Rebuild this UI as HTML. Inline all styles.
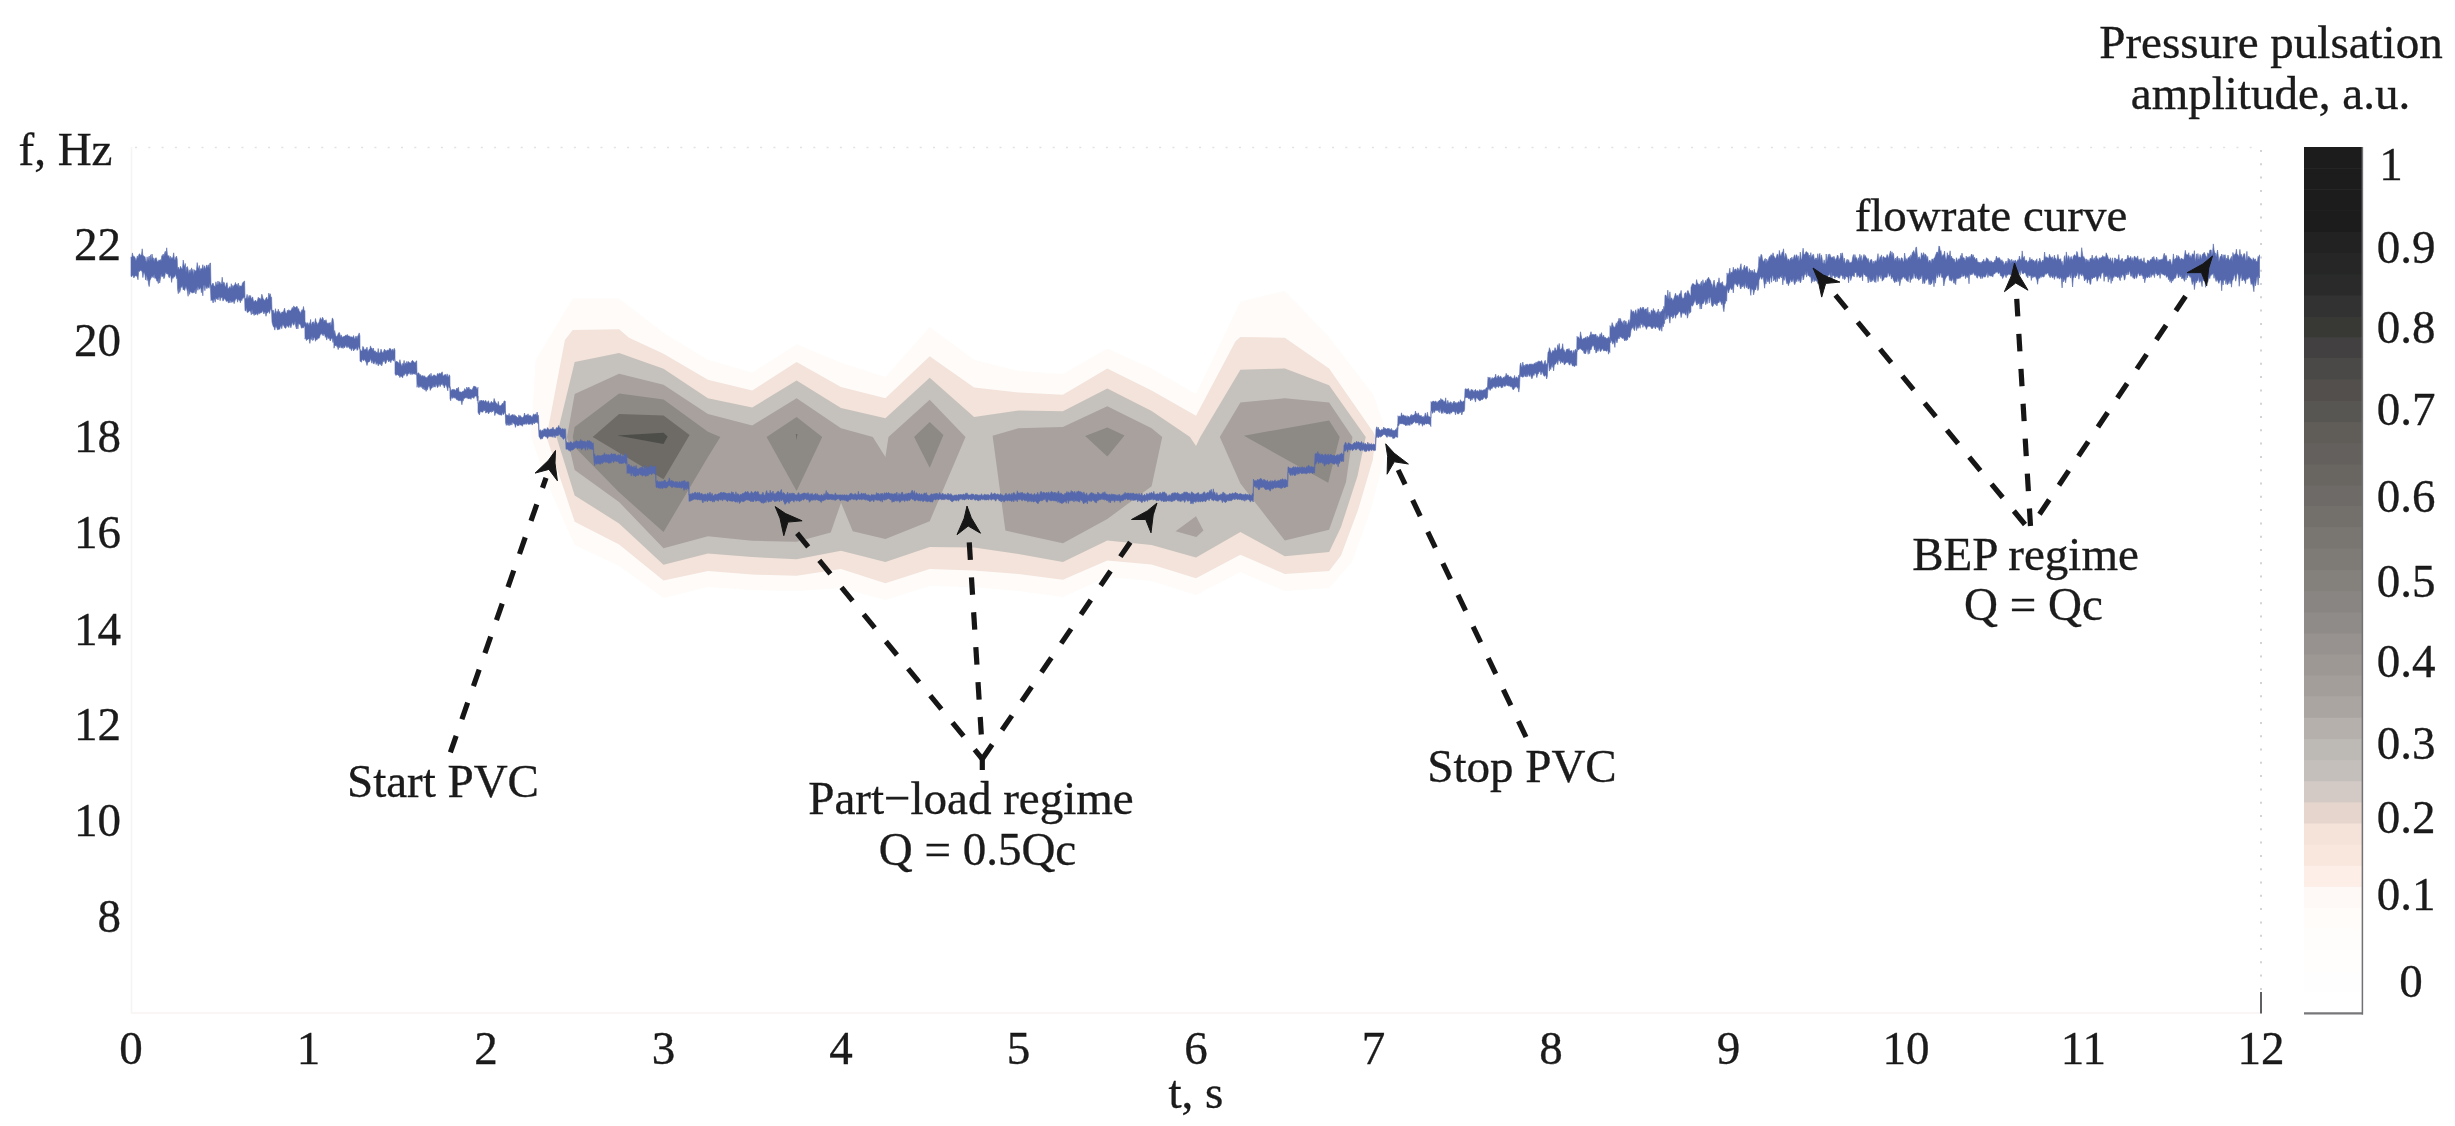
<!DOCTYPE html>
<html><head><meta charset="utf-8"><title>Pressure pulsation amplitude</title>
<style>
html,body{margin:0;padding:0;background:#fff;}
svg{display:block;}
text{font-family:"Liberation Serif","Times New Roman",serif;fill:#1a1a1a;stroke:#1a1a1a;stroke-width:0.35px;}
</style></head>
<body>
<svg width="2455" height="1126" viewBox="0 0 2455 1126">
<defs><filter id="soft" x="0" y="0" width="100%" height="100%" filterUnits="userSpaceOnUse"><feGaussianBlur stdDeviation="0.55"/></filter></defs>
<rect width="2455" height="1126" fill="#ffffff"/>
<g filter="url(#soft)">
<path d="M131.5,147 V1013 H2260" stroke="#f7f4f2" stroke-width="1.5" fill="none"/>
<path d="M135,147.5 H2260" stroke="#e2e2e6" stroke-width="1.6" stroke-dasharray="2 11.3" fill="none"/>
<path d="M2261,150 V990" stroke="#cfcfd3" stroke-width="1.8" stroke-dasharray="2 11.3" fill="none"/>
<path d="M2261,992 V1013.5" stroke="#606064" stroke-width="2" fill="none"/>
<g id="contours">
<polygon fill="#fefbf9" points="531.0,437.0 535.7,360.0 572.7,298.5 619.1,298.5 663.5,332.7 707.9,359.8 752.2,372.7 796.6,344.2 841.0,362.7 885.4,377.0 929.7,327.0 974.1,359.8 1018.5,371.0 1062.9,374.0 1107.3,348.4 1151.6,368.4 1196.0,394.0 1240.4,301.4 1284.8,291.0 1329.1,337.0 1373.5,395.0 1388.0,437.0 1384.0,460.0 1370.0,512.0 1352.0,562.0 1329.1,588.0 1284.8,591.0 1240.4,572.0 1196.0,595.0 1151.6,581.0 1107.3,577.0 1062.9,597.0 1018.5,591.0 974.1,587.0 929.7,586.0 885.4,600.0 841.0,588.0 796.6,591.0 752.2,590.0 707.9,587.0 663.5,598.0 619.1,566.0 574.7,545.0 548.0,485.0"/>
<polygon fill="#f3e3da" points="546.5,437.0 564.9,340.0 572.7,330.0 619.1,329.2 629.0,337.7 663.5,353.7 707.9,379.8 752.2,390.5 796.6,362.0 841.0,386.9 885.4,398.3 929.7,356.3 974.1,387.6 1018.5,392.6 1062.9,394.8 1107.3,368.4 1151.6,390.5 1196.0,415.8 1235.5,341.3 1240.4,337.0 1284.8,337.7 1329.1,368.4 1373.5,432.5 1375.5,437.0 1372.8,460.0 1358.1,509.8 1341.0,555.5 1329.1,571.1 1284.8,574.0 1240.4,554.7 1196.0,578.3 1151.6,564.4 1107.3,560.5 1062.9,579.7 1018.5,574.0 974.1,570.4 929.7,569.0 885.4,583.3 841.0,569.0 796.6,575.7 752.2,574.6 707.9,570.9 663.5,580.4 619.1,544.6 574.7,521.8"/>
<polygon fill="#c5c1bc" points="556.5,437.0 574.7,362.0 619.1,353.0 663.5,368.7 707.9,398.3 752.2,407.6 796.6,380.5 841.0,408.0 885.4,418.3 929.7,377.7 974.1,416.9 1018.5,410.5 1062.9,411.2 1107.3,388.4 1151.6,411.0 1190.0,437.0 1196.0,446.0 1200.3,437.0 1240.4,369.8 1284.8,368.4 1329.1,385.2 1365.7,437.0 1357.5,476.0 1341.0,527.0 1329.1,551.9 1284.8,556.2 1240.4,531.9 1196.0,557.6 1151.6,545.0 1107.3,540.5 1062.9,561.9 1018.5,554.0 974.1,547.6 929.7,546.9 885.4,561.9 841.0,550.8 796.6,559.3 752.2,557.1 707.9,553.4 663.5,564.7 619.1,523.5 574.7,495.5"/>
<polygon fill="#a8a19e" points="567.0,437.0 574.7,394.0 619.1,373.7 663.5,384.8 707.9,414.0 752.2,425.4 796.6,398.3 841.0,428.3 872.8,437.0 885.4,457.0 888.5,437.0 929.7,399.8 965.5,437.0 929.7,521.2 885.4,539.1 852.8,531.2 841.0,502.7 830.7,532.5 796.6,541.8 752.2,540.7 707.9,536.2 663.5,548.3 619.1,502.0 574.7,470.0"/>
<polygon fill="#a8a19e" points="992.6,435.7 1018.5,428.3 1062.9,426.9 1107.3,406.2 1151.6,428.3 1162.2,437.0 1151.6,486.3 1107.3,519.0 1062.9,543.3 1018.5,533.4 1005.4,530.5"/>
<polygon fill="#a8a19e" points="1196.0,516.3 1203.4,530.5 1196.3,536.9 1175.6,531.2"/>
<polygon fill="#a8a19e" points="1219.8,437.0 1240.4,402.6 1284.8,398.3 1329.1,402.5 1352.4,437.0 1346.0,482.0 1329.1,529.8 1284.8,540.5 1240.4,483.5"/>
<polygon fill="#8d8984" points="572.8,437.0 574.7,426.9 619.1,393.6 663.5,399.5 707.9,431.8 720.3,437.0 707.9,457.0 663.5,532.0 619.1,492.3 574.7,447.0"/>
<polygon fill="#8d8984" points="766.6,437.0 796.6,416.9 822.2,437.0 796.6,491.0"/>
<polygon fill="#8d8984" points="914.1,437.0 929.7,421.9 943.4,435.0 929.7,467.8"/>
<polygon fill="#8d8984" points="1085.2,436.0 1107.3,427.6 1124.5,435.5 1107.3,456.4"/>
<polygon fill="#8d8984" points="1244.0,435.7 1329.1,420.4 1339.6,437.0 1328.2,482.8"/>
<polygon fill="#6e6b66" points="592.7,437.0 619.1,414.0 663.5,415.4 689.6,435.0 663.5,479.2"/>
<polygon fill="#6e6b66" points="795.8,434.0 797.4,434.0 796.6,440.0"/>
<polygon fill="#4e4d4a" points="617.3,435.5 663.5,432.8 667.6,436.6 663.5,444.0"/>
</g>
<path id="flow" d="M131.0,256.9 L131.7,258.1 L132.4,252.9 L133.1,256.7 L133.8,256.0 L134.5,256.7 L135.2,258.0 L135.9,260.8 L136.6,259.0 L137.3,255.9 L138.0,258.2 L138.7,255.1 L139.4,253.8 L140.1,254.4 L140.8,255.4 L141.5,254.8 L142.2,248.8 L142.9,255.6 L143.6,255.7 L144.3,256.9 L145.0,256.6 L145.7,260.6 L146.4,262.5 L147.1,256.8 L147.8,261.4 L148.5,258.1 L149.2,256.0 L149.9,261.4 L150.6,254.8 L151.3,260.8 L152.0,254.0 L152.7,258.2 L153.4,257.9 L154.1,261.8 L154.8,258.5 L155.5,258.2 L156.2,257.7 L156.9,260.3 L157.6,262.1 L158.3,261.3 L159.0,259.8 L159.7,260.5 L160.4,259.6 L161.1,261.3 L161.8,255.7 L162.5,255.8 L163.2,254.0 L163.9,256.8 L164.6,253.1 L165.3,251.3 L166.0,254.5 L166.7,247.8 L167.4,254.5 L168.1,256.3 L168.8,255.5 L169.5,259.3 L170.2,256.1 L170.9,259.6 L171.6,257.5 L172.3,258.4 L173.0,256.9 L173.7,252.8 L174.4,259.2 L175.1,259.9 L175.8,257.1 L176.5,256.1 L177.2,259.2 L177.6,269.8 L178.3,267.1 L179.0,268.8 L179.7,269.7 L180.4,266.3 L181.1,267.5 L181.8,269.0 L182.5,268.8 L183.2,260.1 L183.9,264.4 L184.6,267.0 L185.3,263.5 L186.0,272.3 L186.7,267.1 L187.4,266.6 L188.1,269.4 L188.8,274.3 L189.5,270.4 L190.2,269.5 L190.9,273.0 L191.6,267.9 L192.3,272.2 L193.0,269.3 L193.7,275.5 L194.4,269.7 L195.1,270.8 L195.8,271.2 L196.5,269.7 L197.2,262.6 L197.9,267.7 L198.6,268.5 L199.3,265.5 L200.0,271.6 L200.7,268.5 L201.4,268.8 L202.1,268.8 L202.8,264.7 L203.5,270.4 L204.2,265.7 L204.9,267.4 L205.6,269.4 L206.3,265.4 L207.0,265.0 L207.7,268.3 L208.4,264.7 L209.1,268.4 L209.8,263.3 L210.5,263.0 L211.0,285.2 L211.7,285.4 L212.4,283.8 L213.1,283.1 L213.8,285.4 L214.5,286.1 L215.2,286.8 L215.9,281.8 L216.6,284.7 L217.3,285.0 L218.0,281.0 L218.7,285.2 L219.4,281.7 L220.1,282.4 L220.8,284.6 L221.5,283.7 L222.2,277.2 L222.9,284.5 L223.6,282.3 L224.3,282.6 L225.0,286.2 L225.7,286.9 L226.4,283.2 L227.1,282.5 L227.8,288.5 L228.5,288.5 L229.2,287.4 L229.9,286.5 L230.6,289.1 L231.3,283.7 L232.0,288.8 L232.7,285.4 L233.4,286.9 L234.1,285.3 L234.8,284.6 L235.5,282.5 L236.2,286.3 L236.9,284.1 L237.6,286.6 L238.3,283.0 L239.0,287.9 L239.7,285.5 L240.4,286.1 L241.1,286.2 L241.8,286.1 L242.5,282.9 L243.2,282.2 L243.9,281.6 L244.6,281.0 L245.0,298.1 L245.7,298.7 L246.4,297.9 L247.1,294.4 L247.8,298.9 L248.5,297.2 L249.2,295.3 L249.9,298.1 L250.6,295.5 L251.3,299.6 L252.0,297.6 L252.7,297.1 L253.4,300.9 L254.1,301.5 L254.8,301.0 L255.5,300.1 L256.2,301.5 L256.9,302.0 L257.6,299.7 L258.3,297.3 L259.0,298.9 L259.7,297.9 L260.4,299.3 L261.1,299.2 L261.8,294.2 L262.5,296.3 L263.2,299.2 L263.9,299.2 L264.6,300.8 L265.3,300.0 L266.0,298.1 L266.7,297.2 L267.4,300.0 L268.1,298.8 L268.8,293.1 L269.5,296.0 L270.2,293.7 L270.9,297.2 L271.6,297.3 L272.0,311.2 L272.7,310.0 L273.4,310.3 L274.1,314.1 L274.8,312.6 L275.5,308.7 L276.2,314.5 L276.9,311.3 L277.6,312.2 L278.3,309.2 L279.0,312.7 L279.7,311.4 L280.4,313.5 L281.1,313.7 L281.8,312.1 L282.5,312.0 L283.2,312.3 L283.9,310.2 L284.6,308.1 L285.3,312.2 L286.0,312.7 L286.7,313.4 L287.4,310.2 L288.1,311.2 L288.8,309.7 L289.5,310.4 L290.2,310.9 L290.9,310.6 L291.6,309.2 L292.3,307.4 L293.0,309.3 L293.7,306.0 L294.4,306.7 L295.1,307.4 L295.8,307.4 L296.5,306.5 L297.2,306.6 L297.9,309.8 L298.6,308.6 L299.3,311.8 L300.0,311.6 L300.7,313.9 L301.4,310.9 L302.1,309.6 L302.8,310.4 L303.5,306.5 L304.2,311.2 L304.9,310.5 L305.0,321.4 L305.7,322.7 L306.4,324.4 L307.1,322.5 L307.8,323.3 L308.5,325.6 L309.2,322.7 L309.9,325.5 L310.6,319.4 L311.3,325.8 L312.0,323.3 L312.7,322.0 L313.4,321.8 L314.1,324.4 L314.8,322.4 L315.5,318.5 L316.2,322.3 L316.9,322.5 L317.6,325.2 L318.3,322.9 L319.0,322.5 L319.7,319.8 L320.4,317.7 L321.1,319.7 L321.8,319.5 L322.5,317.2 L323.2,318.5 L323.9,321.9 L324.6,320.1 L325.3,321.5 L326.0,319.7 L326.7,322.4 L327.4,322.9 L328.1,324.3 L328.8,322.8 L329.5,323.3 L330.2,322.3 L330.9,326.2 L331.6,322.4 L332.3,318.1 L333.0,318.7 L333.7,323.8 L334.0,334.3 L334.7,330.6 L335.4,334.2 L336.1,336.5 L336.8,336.6 L337.5,335.5 L338.2,333.8 L338.9,332.6 L339.6,332.8 L340.3,337.4 L341.0,334.8 L341.7,336.2 L342.4,337.5 L343.1,336.5 L343.8,336.9 L344.5,336.1 L345.2,336.0 L345.9,334.9 L346.6,336.0 L347.3,334.4 L348.0,336.1 L348.7,336.1 L349.4,335.9 L350.1,337.6 L350.8,336.5 L351.5,337.0 L352.2,337.2 L352.9,337.5 L353.6,335.5 L354.3,338.3 L355.0,339.2 L355.7,336.3 L356.4,336.4 L357.1,339.1 L357.8,335.7 L358.5,335.1 L359.2,332.9 L359.9,335.9 L360.0,349.0 L360.7,350.6 L361.4,350.9 L362.1,350.9 L362.8,346.4 L363.5,347.1 L364.2,349.9 L364.9,349.6 L365.6,349.2 L366.3,349.5 L367.0,347.1 L367.7,351.3 L368.4,351.3 L369.1,349.3 L369.8,349.5 L370.5,345.9 L371.2,348.3 L371.9,348.0 L372.6,350.3 L373.3,348.0 L374.0,350.9 L374.7,351.2 L375.4,350.9 L376.1,353.2 L376.8,351.9 L377.5,353.6 L378.2,348.5 L378.9,353.4 L379.6,352.7 L380.3,352.6 L381.0,349.1 L381.7,351.3 L382.4,352.8 L383.1,352.7 L383.8,351.0 L384.5,349.1 L385.2,351.4 L385.9,350.1 L386.6,351.6 L387.3,350.2 L388.0,349.9 L388.7,351.0 L389.4,348.4 L390.1,348.7 L390.8,348.8 L391.5,350.7 L392.2,350.3 L392.9,348.9 L393.6,351.4 L394.3,348.3 L395.0,350.4 L395.0,361.2 L395.7,362.4 L396.4,361.1 L397.1,361.8 L397.8,362.0 L398.5,363.1 L399.2,363.4 L399.9,359.7 L400.6,363.0 L401.3,364.7 L402.0,366.4 L402.7,363.4 L403.4,364.3 L404.1,360.4 L404.8,365.5 L405.5,362.8 L406.2,364.3 L406.9,361.3 L407.6,364.2 L408.3,361.6 L409.0,362.0 L409.7,362.9 L410.4,362.9 L411.1,362.7 L411.8,361.0 L412.5,360.3 L413.2,361.8 L413.9,361.6 L414.6,362.9 L415.3,362.7 L416.0,361.3 L416.7,360.8 L417.0,375.3 L417.7,373.3 L418.4,372.7 L419.1,373.5 L419.8,375.3 L420.5,374.5 L421.2,377.1 L421.9,375.4 L422.6,375.8 L423.3,375.7 L424.0,377.3 L424.7,375.7 L425.4,377.5 L426.1,377.1 L426.8,378.3 L427.5,376.9 L428.2,376.0 L428.9,375.3 L429.6,374.4 L430.3,377.3 L431.0,373.2 L431.7,377.0 L432.4,375.9 L433.1,376.3 L433.8,374.8 L434.5,375.0 L435.2,376.1 L435.9,375.7 L436.6,377.1 L437.3,373.8 L438.0,373.5 L438.7,374.9 L439.4,372.9 L440.1,374.2 L440.8,373.6 L441.5,372.8 L442.2,371.8 L442.9,375.7 L443.6,375.9 L444.3,374.9 L445.0,374.6 L445.7,374.6 L446.4,377.0 L447.1,373.8 L447.8,376.4 L448.5,376.9 L449.2,374.7 L449.9,376.2 L450.0,385.6 L450.7,390.6 L451.4,390.4 L452.1,389.2 L452.8,389.8 L453.5,389.4 L454.2,389.4 L454.9,389.9 L455.6,391.1 L456.3,389.1 L457.0,388.0 L457.7,389.6 L458.4,387.2 L459.1,391.7 L459.8,391.9 L460.5,391.8 L461.2,392.6 L461.9,391.7 L462.6,391.4 L463.3,391.2 L464.0,391.1 L464.7,388.6 L465.4,389.6 L466.1,390.5 L466.8,387.0 L467.5,388.8 L468.2,388.5 L468.9,387.0 L469.6,389.4 L470.3,389.3 L471.0,389.5 L471.7,390.0 L472.4,389.2 L473.1,387.5 L473.8,386.1 L474.5,386.3 L475.2,387.0 L475.9,386.6 L476.6,388.5 L477.3,389.5 L478.0,387.3 L478.0,403.6 L478.7,403.1 L479.4,401.4 L480.1,400.2 L480.8,401.6 L481.5,400.0 L482.2,400.7 L482.9,401.3 L483.6,400.2 L484.3,401.9 L485.0,401.3 L485.7,400.3 L486.4,401.8 L487.1,403.0 L487.8,401.4 L488.5,400.8 L489.2,403.0 L489.9,403.8 L490.6,402.7 L491.3,401.3 L492.0,402.6 L492.7,402.8 L493.4,403.0 L494.1,398.5 L494.8,400.8 L495.5,402.3 L496.2,402.8 L496.9,404.3 L497.6,404.7 L498.3,401.4 L499.0,405.0 L499.7,405.9 L500.4,405.8 L501.1,405.3 L501.8,404.4 L502.5,403.1 L503.2,404.6 L503.9,401.3 L504.6,400.9 L505.3,401.3 L505.6,416.4 L506.3,414.6 L507.0,416.1 L507.7,414.9 L508.4,416.2 L509.1,413.4 L509.8,416.2 L510.5,415.9 L511.2,415.2 L511.9,414.9 L512.6,414.5 L513.3,416.0 L514.0,414.4 L514.7,415.9 L515.4,415.5 L516.1,416.3 L516.8,416.8 L517.5,417.5 L518.2,417.8 L518.9,414.9 L519.6,417.1 L520.3,415.6 L521.0,417.1 L521.7,417.2 L522.4,417.7 L523.1,416.9 L523.8,416.5 L524.5,413.0 L525.2,415.7 L525.9,415.5 L526.6,414.8 L527.3,416.0 L528.0,413.8 L528.7,416.0 L529.4,415.4 L530.1,415.7 L530.8,415.5 L531.5,417.1 L532.2,417.2 L532.9,415.4 L533.6,413.9 L534.3,414.5 L535.0,415.2 L535.7,413.8 L536.4,415.7 L537.1,412.0 L537.8,415.4 L538.5,415.5 L539.0,430.3 L539.7,430.3 L540.4,429.7 L541.1,431.4 L541.8,430.5 L542.5,430.0 L543.2,431.3 L543.9,428.8 L544.6,428.9 L545.3,428.9 L546.0,429.4 L546.7,430.0 L547.4,427.6 L548.1,428.6 L548.8,429.2 L549.5,430.1 L550.2,429.2 L550.9,429.1 L551.6,428.9 L552.3,428.7 L553.0,427.1 L553.7,429.3 L554.4,429.2 L555.1,429.9 L555.8,428.9 L556.5,427.6 L557.2,428.0 L557.9,427.8 L558.6,425.5 L559.3,427.4 L560.0,428.1 L560.7,428.1 L561.4,429.6 L562.1,428.9 L562.8,428.5 L563.5,429.0 L564.2,430.1 L564.9,428.6 L565.6,429.4 L566.0,440.8 L566.7,442.4 L567.4,442.6 L568.1,442.6 L568.8,442.9 L569.5,443.1 L570.2,442.0 L570.9,441.6 L571.6,442.3 L572.3,443.3 L573.0,443.5 L573.7,441.6 L574.4,442.9 L575.1,441.4 L575.8,441.2 L576.5,440.4 L577.2,442.0 L577.9,441.1 L578.6,442.2 L579.3,441.3 L580.0,441.5 L580.7,439.4 L581.4,440.8 L582.1,441.0 L582.8,441.0 L583.5,441.6 L584.2,441.3 L584.9,441.3 L585.6,441.9 L586.3,442.4 L587.0,441.2 L587.7,440.3 L588.4,441.5 L589.1,440.4 L589.8,441.1 L590.5,441.6 L591.2,441.9 L591.9,442.5 L592.6,443.4 L593.3,442.8 L594.0,456.3 L594.7,453.8 L595.4,456.6 L596.1,456.5 L596.8,455.8 L597.5,455.2 L598.2,455.8 L598.9,455.5 L599.6,455.8 L600.3,456.0 L601.0,455.5 L601.7,455.9 L602.4,454.9 L603.1,454.9 L603.8,455.1 L604.5,452.8 L605.2,454.7 L605.9,455.2 L606.6,454.3 L607.3,455.5 L608.0,454.2 L608.7,454.9 L609.4,455.1 L610.1,455.5 L610.8,454.1 L611.5,453.3 L612.2,454.5 L612.9,454.2 L613.6,454.1 L614.3,454.3 L615.0,453.7 L615.7,454.3 L616.4,455.8 L617.1,456.2 L617.8,454.8 L618.5,455.0 L619.2,454.9 L619.9,455.7 L620.6,453.5 L621.3,456.7 L622.0,456.6 L622.7,455.2 L623.4,456.3 L624.1,456.9 L624.8,454.2 L625.5,453.3 L626.2,455.1 L626.9,455.8 L627.0,464.8 L627.7,466.4 L628.4,464.5 L629.1,464.1 L629.8,466.5 L630.5,466.7 L631.2,465.4 L631.9,467.0 L632.6,466.9 L633.3,468.1 L634.0,465.8 L634.7,467.8 L635.4,468.0 L636.1,465.4 L636.8,468.6 L637.5,468.9 L638.2,469.1 L638.9,468.7 L639.6,468.1 L640.3,467.9 L641.0,467.2 L641.7,467.7 L642.4,466.4 L643.1,468.2 L643.8,469.0 L644.5,465.2 L645.2,469.3 L645.9,468.9 L646.6,466.2 L647.3,469.1 L648.0,468.5 L648.7,467.8 L649.4,466.4 L650.1,467.5 L650.8,465.0 L651.5,466.5 L652.2,467.1 L652.9,466.4 L653.6,466.9 L654.3,466.7 L655.0,466.4 L655.7,466.1 L656.0,482.5 L656.7,481.0 L657.4,480.5 L658.1,482.8 L658.8,481.6 L659.5,481.7 L660.2,481.9 L660.9,481.7 L661.6,481.3 L662.3,481.7 L663.0,481.4 L663.7,481.3 L664.4,480.1 L665.1,480.1 L665.8,482.0 L666.5,482.3 L667.2,482.1 L667.9,481.4 L668.6,480.8 L669.3,477.9 L670.0,480.5 L670.7,481.4 L671.4,480.4 L672.1,480.5 L672.8,481.3 L673.5,481.2 L674.2,482.4 L674.9,482.1 L675.6,481.6 L676.3,482.6 L677.0,481.3 L677.7,482.6 L678.4,483.0 L679.1,481.8 L679.8,481.6 L680.5,482.9 L681.2,481.7 L681.9,480.9 L682.6,482.1 L683.3,480.7 L684.0,481.7 L684.7,480.3 L685.4,482.0 L686.1,483.3 L686.8,481.8 L687.5,481.9 L688.2,481.5 L688.9,482.7 L689.0,495.2 L689.7,494.0 L690.4,494.3 L691.1,493.5 L691.8,494.7 L692.5,492.9 L693.2,493.4 L693.9,493.8 L694.6,492.4 L695.3,492.0 L696.0,493.3 L696.7,493.8 L697.4,492.3 L698.1,494.3 L698.8,492.5 L699.5,492.5 L700.2,493.6 L700.9,494.8 L701.6,493.0 L702.3,494.1 L703.0,494.7 L703.7,494.5 L704.4,494.3 L705.1,494.2 L705.8,493.9 L706.5,495.5 L707.2,494.1 L707.9,492.9 L708.6,494.8 L709.3,493.7 L710.0,492.0 L710.7,494.3 L711.4,494.4 L712.1,493.2 L712.8,495.5 L713.5,495.8 L714.2,495.3 L714.9,494.3 L715.6,494.1 L716.3,495.3 L717.0,494.1 L717.7,494.5 L718.4,493.6 L719.1,493.9 L719.8,493.1 L720.5,492.5 L721.2,492.4 L721.9,492.5 L722.6,493.3 L723.3,492.0 L724.0,493.3 L724.7,492.5 L725.4,493.1 L726.1,493.1 L726.8,493.9 L727.5,493.5 L728.2,493.1 L728.9,493.4 L729.6,493.0 L730.3,494.3 L731.0,493.5 L731.7,491.6 L732.4,493.2 L733.1,492.1 L733.8,494.1 L734.5,494.3 L735.2,495.3 L735.9,491.7 L736.6,494.8 L737.3,493.5 L738.0,494.8 L738.7,493.8 L739.4,496.2 L740.1,494.9 L740.8,494.0 L741.5,495.0 L742.2,493.7 L742.9,493.1 L743.6,493.4 L744.3,492.9 L745.0,492.2 L745.7,491.6 L746.4,492.4 L747.1,492.2 L747.8,491.3 L748.5,492.6 L749.2,494.1 L749.9,493.2 L750.6,493.5 L751.3,491.3 L752.0,492.3 L752.7,493.0 L753.4,493.5 L754.1,492.3 L754.8,491.8 L755.5,491.2 L756.2,492.0 L756.9,492.6 L757.6,491.5 L758.3,491.8 L759.0,494.2 L759.7,494.6 L760.4,495.2 L761.1,494.1 L761.8,495.5 L762.5,492.5 L763.2,492.5 L763.9,494.9 L764.6,495.3 L765.3,495.3 L766.0,492.0 L766.7,490.5 L767.4,493.4 L768.1,493.1 L768.8,493.3 L769.5,494.3 L770.2,490.2 L770.9,494.0 L771.6,492.5 L772.3,493.6 L773.0,491.0 L773.7,494.2 L774.4,493.5 L775.1,494.4 L775.8,493.3 L776.5,493.0 L777.2,491.9 L777.9,491.3 L778.6,491.3 L779.3,492.7 L780.0,492.7 L780.7,490.6 L781.4,489.4 L782.1,493.4 L782.8,493.4 L783.5,492.4 L784.2,493.1 L784.9,494.3 L785.6,494.7 L786.3,495.0 L787.0,493.5 L787.7,492.1 L788.4,494.7 L789.1,493.9 L789.8,493.1 L790.5,494.4 L791.2,492.9 L791.9,495.1 L792.6,492.9 L793.3,493.4 L794.0,493.1 L794.7,494.2 L795.4,495.1 L796.1,494.7 L796.8,495.2 L797.5,494.4 L798.2,492.8 L798.9,492.8 L799.6,494.8 L800.3,494.8 L801.0,493.9 L801.7,494.1 L802.4,493.7 L803.1,493.0 L803.8,493.3 L804.5,493.1 L805.2,493.0 L805.9,494.3 L806.6,493.4 L807.3,493.9 L808.0,492.5 L808.7,494.1 L809.4,495.2 L810.1,493.6 L810.8,494.7 L811.5,493.8 L812.2,493.2 L812.9,495.0 L813.6,495.1 L814.3,494.4 L815.0,494.4 L815.7,493.3 L816.4,495.4 L817.1,493.6 L817.8,494.5 L818.5,495.3 L819.2,494.9 L819.9,495.6 L820.6,495.8 L821.3,494.4 L822.0,494.8 L822.7,496.0 L823.4,495.2 L824.1,493.6 L824.8,494.7 L825.5,494.2 L826.2,490.5 L826.9,494.8 L827.6,492.4 L828.3,494.0 L829.0,493.9 L829.7,494.8 L830.4,494.0 L831.1,494.9 L831.8,493.9 L832.5,494.7 L833.2,494.7 L833.9,495.2 L834.6,495.0 L835.3,492.8 L836.0,494.3 L836.7,495.0 L837.4,494.9 L838.1,495.3 L838.8,494.9 L839.5,494.9 L840.2,495.1 L840.9,494.7 L841.6,495.2 L842.3,494.6 L843.0,495.4 L843.7,495.1 L844.4,494.5 L845.1,495.3 L845.8,495.2 L846.5,494.8 L847.2,495.4 L847.9,495.1 L848.6,495.4 L849.3,494.9 L850.0,493.6 L850.7,493.4 L851.4,493.2 L852.1,494.5 L852.8,493.9 L853.5,494.9 L854.2,494.8 L854.9,493.4 L855.6,493.8 L856.3,494.7 L857.0,494.8 L857.7,495.0 L858.4,491.3 L859.1,495.1 L859.8,494.3 L860.5,495.0 L861.2,493.1 L861.9,493.2 L862.6,494.6 L863.3,493.2 L864.0,494.4 L864.7,493.4 L865.4,493.3 L866.1,494.5 L866.8,495.1 L867.5,495.1 L868.2,494.5 L868.9,495.0 L869.6,495.3 L870.3,496.3 L871.0,495.2 L871.7,494.2 L872.4,494.8 L873.1,495.2 L873.8,494.5 L874.5,495.0 L875.2,495.3 L875.9,494.4 L876.6,492.6 L877.3,493.4 L878.0,493.9 L878.7,493.2 L879.4,494.5 L880.1,494.9 L880.8,493.3 L881.5,494.1 L882.2,493.2 L882.9,494.3 L883.6,494.9 L884.3,492.7 L885.0,493.2 L885.7,493.8 L886.4,492.6 L887.1,493.0 L887.8,493.8 L888.5,492.3 L889.2,494.0 L889.9,493.1 L890.6,494.4 L891.3,493.4 L892.0,494.6 L892.7,493.7 L893.4,494.6 L894.1,493.5 L894.8,493.9 L895.5,493.5 L896.2,494.6 L896.9,492.0 L897.6,495.8 L898.3,495.3 L899.0,493.2 L899.7,494.7 L900.4,494.4 L901.1,493.5 L901.8,492.2 L902.5,492.3 L903.2,494.3 L903.9,495.1 L904.6,494.2 L905.3,493.6 L906.0,494.7 L906.7,493.4 L907.4,493.9 L908.1,493.1 L908.8,493.0 L909.5,493.9 L910.2,492.8 L910.9,493.7 L911.6,490.9 L912.3,490.2 L913.0,491.9 L913.7,493.4 L914.4,490.7 L915.1,494.4 L915.8,493.8 L916.5,492.6 L917.2,493.6 L917.9,494.3 L918.6,494.7 L919.3,493.2 L920.0,495.1 L920.7,494.8 L921.4,493.8 L922.1,494.3 L922.8,495.3 L923.5,494.1 L924.2,493.1 L924.9,493.1 L925.6,493.7 L926.3,492.6 L927.0,494.9 L927.7,495.0 L928.4,495.8 L929.1,495.6 L929.8,495.8 L930.5,494.7 L931.2,493.8 L931.9,494.0 L932.6,494.5 L933.3,493.9 L934.0,494.3 L934.7,493.7 L935.4,493.7 L936.1,493.8 L936.8,493.0 L937.5,494.0 L938.2,494.6 L938.9,494.1 L939.6,492.4 L940.3,494.0 L941.0,494.7 L941.7,493.9 L942.4,493.2 L943.1,493.4 L943.8,495.1 L944.5,494.5 L945.2,494.2 L945.9,494.4 L946.6,495.1 L947.3,494.7 L948.0,493.1 L948.7,494.6 L949.4,494.4 L950.1,494.9 L950.8,493.6 L951.5,494.3 L952.2,495.7 L952.9,495.6 L953.6,495.9 L954.3,495.0 L955.0,495.3 L955.7,495.1 L956.4,494.7 L957.1,495.6 L957.8,495.4 L958.5,494.2 L959.2,494.9 L959.9,494.4 L960.6,494.6 L961.3,494.6 L962.0,495.1 L962.7,494.8 L963.4,494.0 L964.1,494.3 L964.8,495.3 L965.5,493.3 L966.2,493.9 L966.9,492.8 L967.6,494.1 L968.3,494.9 L969.0,495.0 L969.7,495.1 L970.4,495.0 L971.1,494.6 L971.8,493.7 L972.5,494.3 L973.2,494.0 L973.9,494.9 L974.6,495.8 L975.3,494.2 L976.0,494.9 L976.7,494.5 L977.4,494.9 L978.1,494.8 L978.8,495.8 L979.5,494.9 L980.2,495.3 L980.9,495.2 L981.6,493.7 L982.3,495.8 L983.0,495.4 L983.7,495.2 L984.4,494.2 L985.1,494.6 L985.8,494.7 L986.5,495.1 L987.2,494.3 L987.9,495.5 L988.6,494.5 L989.3,495.6 L990.0,495.3 L990.7,494.3 L991.4,492.6 L992.1,494.3 L992.8,494.2 L993.5,494.1 L994.2,493.4 L994.9,493.0 L995.6,494.3 L996.3,494.5 L997.0,494.3 L997.7,493.9 L998.4,494.3 L999.1,494.9 L999.8,494.9 L1000.5,493.4 L1001.2,495.2 L1001.9,494.6 L1002.6,494.9 L1003.3,496.0 L1004.0,495.8 L1004.7,494.9 L1005.4,494.1 L1006.1,493.1 L1006.8,495.2 L1007.5,494.9 L1008.2,494.4 L1008.9,493.7 L1009.6,493.8 L1010.3,494.9 L1011.0,495.3 L1011.7,493.3 L1012.4,495.5 L1013.1,493.0 L1013.8,492.5 L1014.5,492.9 L1015.2,494.9 L1015.9,494.4 L1016.6,494.5 L1017.3,490.8 L1018.0,493.2 L1018.7,493.1 L1019.4,493.1 L1020.1,493.7 L1020.8,492.4 L1021.5,493.3 L1022.2,492.1 L1022.9,493.5 L1023.6,493.8 L1024.3,493.4 L1025.0,493.7 L1025.7,494.3 L1026.4,494.5 L1027.1,492.9 L1027.8,492.5 L1028.5,493.1 L1029.2,495.1 L1029.9,493.8 L1030.6,494.3 L1031.3,493.5 L1032.0,494.8 L1032.7,495.0 L1033.4,495.2 L1034.1,493.7 L1034.8,493.6 L1035.5,495.4 L1036.2,494.6 L1036.9,494.6 L1037.6,492.3 L1038.3,494.3 L1039.0,494.7 L1039.7,494.5 L1040.4,491.9 L1041.1,491.2 L1041.8,492.3 L1042.5,493.8 L1043.2,492.1 L1043.9,492.6 L1044.6,492.7 L1045.3,492.9 L1046.0,493.6 L1046.7,492.1 L1047.4,493.1 L1048.1,493.5 L1048.8,491.8 L1049.5,494.1 L1050.2,493.4 L1050.9,491.9 L1051.6,491.3 L1052.3,492.4 L1053.0,492.2 L1053.7,493.7 L1054.4,492.0 L1055.1,493.7 L1055.8,492.3 L1056.5,493.5 L1057.2,494.1 L1057.9,492.1 L1058.6,490.9 L1059.3,495.1 L1060.0,492.8 L1060.7,494.2 L1061.4,492.9 L1062.1,494.8 L1062.8,494.1 L1063.5,494.9 L1064.2,495.1 L1064.9,493.2 L1065.6,494.0 L1066.3,492.7 L1067.0,491.5 L1067.7,494.1 L1068.4,491.8 L1069.1,493.3 L1069.8,492.8 L1070.5,493.0 L1071.2,490.5 L1071.9,492.5 L1072.6,491.2 L1073.3,492.6 L1074.0,493.1 L1074.7,491.2 L1075.4,493.1 L1076.1,494.0 L1076.8,491.5 L1077.5,492.0 L1078.2,491.2 L1078.9,490.9 L1079.6,492.3 L1080.3,491.5 L1081.0,492.4 L1081.7,492.1 L1082.4,492.9 L1083.1,494.3 L1083.8,491.9 L1084.5,493.4 L1085.2,494.5 L1085.9,494.9 L1086.6,492.8 L1087.3,495.1 L1088.0,495.9 L1088.7,494.9 L1089.4,494.2 L1090.1,493.4 L1090.8,492.9 L1091.5,492.7 L1092.2,492.7 L1092.9,493.7 L1093.6,493.3 L1094.3,495.2 L1095.0,493.7 L1095.7,495.1 L1096.4,494.0 L1097.1,495.5 L1097.8,492.0 L1098.5,493.3 L1099.2,493.6 L1099.9,494.1 L1100.6,494.3 L1101.3,494.1 L1102.0,493.9 L1102.7,492.6 L1103.4,492.5 L1104.1,494.1 L1104.8,491.7 L1105.5,493.7 L1106.2,493.9 L1106.9,494.1 L1107.6,494.4 L1108.3,495.0 L1109.0,494.6 L1109.7,493.9 L1110.4,494.7 L1111.1,495.6 L1111.8,493.7 L1112.5,495.0 L1113.2,494.1 L1113.9,495.1 L1114.6,494.5 L1115.3,494.7 L1116.0,495.2 L1116.7,495.2 L1117.4,495.6 L1118.1,494.5 L1118.8,495.9 L1119.5,494.2 L1120.2,495.8 L1120.9,495.9 L1121.6,495.3 L1122.3,495.0 L1123.0,494.7 L1123.7,493.7 L1124.4,494.0 L1125.1,492.3 L1125.8,494.1 L1126.5,493.4 L1127.2,493.1 L1127.9,493.5 L1128.6,492.8 L1129.3,493.8 L1130.0,493.9 L1130.7,492.9 L1131.4,493.4 L1132.1,494.3 L1132.8,492.9 L1133.5,493.1 L1134.2,494.1 L1134.9,494.3 L1135.6,494.0 L1136.3,494.0 L1137.0,493.6 L1137.7,494.6 L1138.4,495.1 L1139.1,493.2 L1139.8,494.5 L1140.5,495.0 L1141.2,494.6 L1141.9,493.0 L1142.6,495.7 L1143.3,495.5 L1144.0,494.8 L1144.7,494.3 L1145.4,495.7 L1146.1,495.1 L1146.8,493.3 L1147.5,494.2 L1148.2,494.0 L1148.9,494.4 L1149.6,492.7 L1150.3,493.9 L1151.0,492.6 L1151.7,492.4 L1152.4,493.5 L1153.1,493.5 L1153.8,491.3 L1154.5,494.3 L1155.2,494.2 L1155.9,494.3 L1156.6,494.1 L1157.3,493.5 L1158.0,494.2 L1158.7,494.1 L1159.4,493.6 L1160.1,492.2 L1160.8,493.5 L1161.5,493.9 L1162.2,492.9 L1162.9,491.8 L1163.6,492.6 L1164.3,492.1 L1165.0,492.4 L1165.7,494.0 L1166.4,493.6 L1167.1,495.4 L1167.8,496.3 L1168.5,495.8 L1169.2,494.6 L1169.9,495.4 L1170.6,495.7 L1171.3,494.0 L1172.0,493.2 L1172.7,493.0 L1173.4,493.9 L1174.1,492.4 L1174.8,493.2 L1175.5,492.8 L1176.2,493.2 L1176.9,493.5 L1177.6,492.5 L1178.3,493.6 L1179.0,494.0 L1179.7,494.2 L1180.4,494.5 L1181.1,494.5 L1181.8,493.6 L1182.5,493.7 L1183.2,494.1 L1183.9,492.1 L1184.6,492.2 L1185.3,492.2 L1186.0,492.4 L1186.7,492.1 L1187.4,492.5 L1188.1,492.9 L1188.8,493.7 L1189.5,493.2 L1190.2,494.7 L1190.9,493.5 L1191.6,491.8 L1192.3,492.3 L1193.0,493.6 L1193.7,493.2 L1194.4,494.3 L1195.1,494.3 L1195.8,494.0 L1196.5,494.0 L1197.2,492.8 L1197.9,493.2 L1198.6,492.5 L1199.3,494.8 L1200.0,494.8 L1200.7,494.0 L1201.4,494.1 L1202.1,494.6 L1202.8,493.3 L1203.5,492.4 L1204.2,491.7 L1204.9,492.5 L1205.6,494.5 L1206.3,493.2 L1207.0,493.2 L1207.7,492.2 L1208.4,493.2 L1209.1,491.9 L1209.8,490.4 L1210.5,491.6 L1211.2,489.3 L1211.9,492.0 L1212.6,494.1 L1213.3,488.8 L1214.0,493.6 L1214.7,491.9 L1215.4,494.2 L1216.1,495.0 L1216.8,492.6 L1217.5,494.6 L1218.2,495.6 L1218.9,495.0 L1219.6,494.9 L1220.3,495.0 L1221.0,493.7 L1221.7,494.8 L1222.4,493.5 L1223.1,491.9 L1223.8,493.3 L1224.5,493.2 L1225.2,493.6 L1225.9,495.8 L1226.6,494.6 L1227.3,495.0 L1228.0,494.6 L1228.7,495.1 L1229.4,493.6 L1230.1,493.7 L1230.8,494.1 L1231.5,493.9 L1232.2,493.3 L1232.9,492.9 L1233.6,493.9 L1234.3,493.5 L1235.0,492.6 L1235.7,492.6 L1236.4,493.0 L1237.1,493.8 L1237.8,493.5 L1238.5,494.7 L1239.2,493.8 L1239.9,494.1 L1240.6,493.4 L1241.3,494.0 L1242.0,494.1 L1242.7,495.0 L1243.4,494.4 L1244.1,494.7 L1244.8,494.4 L1245.5,493.8 L1246.2,494.6 L1246.9,495.0 L1247.6,494.3 L1248.3,495.5 L1249.0,494.3 L1249.7,494.5 L1250.4,495.0 L1251.1,495.8 L1251.8,495.1 L1252.5,493.4 L1253.2,496.2 L1253.4,479.1 L1254.1,481.2 L1254.8,480.6 L1255.5,480.8 L1256.2,480.4 L1256.9,481.2 L1257.6,479.3 L1258.3,480.0 L1259.0,479.7 L1259.7,479.3 L1260.4,478.4 L1261.1,478.5 L1261.8,479.3 L1262.5,480.8 L1263.2,480.4 L1263.9,479.2 L1264.6,480.0 L1265.3,480.2 L1266.0,481.4 L1266.7,480.7 L1267.4,480.1 L1268.1,482.0 L1268.8,481.9 L1269.5,481.3 L1270.2,482.3 L1270.9,480.3 L1271.6,482.9 L1272.3,480.8 L1273.0,481.1 L1273.7,481.4 L1274.4,481.0 L1275.1,479.8 L1275.8,482.2 L1276.5,481.2 L1277.2,481.0 L1277.9,480.8 L1278.6,480.4 L1279.3,481.0 L1280.0,479.9 L1280.7,479.4 L1281.4,480.2 L1282.1,479.0 L1282.8,478.8 L1283.5,480.1 L1284.2,480.5 L1284.9,479.0 L1285.6,479.4 L1286.3,480.0 L1287.0,480.5 L1287.7,481.0 L1288.0,466.8 L1288.7,467.2 L1289.4,468.2 L1290.1,468.1 L1290.8,468.3 L1291.5,468.6 L1292.2,467.5 L1292.9,468.1 L1293.6,466.5 L1294.3,468.4 L1295.0,466.7 L1295.7,467.2 L1296.4,467.7 L1297.1,467.6 L1297.8,466.6 L1298.5,467.7 L1299.2,467.7 L1299.9,466.8 L1300.6,468.1 L1301.3,467.6 L1302.0,466.7 L1302.7,467.3 L1303.4,467.7 L1304.1,467.3 L1304.8,467.7 L1305.5,468.2 L1306.2,467.5 L1306.9,466.4 L1307.6,467.7 L1308.3,465.5 L1309.0,465.3 L1309.7,467.3 L1310.4,467.5 L1311.1,466.3 L1311.8,467.1 L1312.5,466.9 L1313.2,467.1 L1313.9,467.3 L1314.6,467.4 L1315.0,454.4 L1315.7,453.4 L1316.4,453.5 L1317.1,454.6 L1317.8,451.6 L1318.5,454.1 L1319.2,454.4 L1319.9,453.7 L1320.6,455.7 L1321.3,454.5 L1322.0,453.9 L1322.7,454.4 L1323.4,455.8 L1324.1,455.5 L1324.8,454.4 L1325.5,453.9 L1326.2,455.2 L1326.9,455.5 L1327.6,454.9 L1328.3,453.9 L1329.0,456.2 L1329.7,455.6 L1330.4,454.1 L1331.1,455.0 L1331.8,454.7 L1332.5,455.7 L1333.2,455.1 L1333.9,456.1 L1334.6,455.3 L1335.3,456.3 L1336.0,456.1 L1336.7,454.9 L1337.4,454.5 L1338.1,456.5 L1338.8,454.5 L1339.5,455.4 L1340.2,453.8 L1340.9,454.5 L1341.6,452.8 L1342.3,454.8 L1343.0,453.7 L1343.7,455.0 L1344.0,445.0 L1344.7,444.4 L1345.4,442.2 L1346.1,443.0 L1346.8,444.8 L1347.5,444.9 L1348.2,442.8 L1348.9,442.9 L1349.6,443.5 L1350.3,444.0 L1351.0,443.9 L1351.7,445.0 L1352.4,444.4 L1353.1,443.6 L1353.8,443.4 L1354.5,442.2 L1355.2,442.9 L1355.9,443.2 L1356.6,441.2 L1357.3,442.4 L1358.0,442.3 L1358.7,441.8 L1359.4,442.8 L1360.1,443.1 L1360.8,442.9 L1361.5,441.5 L1362.2,442.9 L1362.9,445.0 L1363.6,442.6 L1364.3,444.8 L1365.0,443.3 L1365.7,443.8 L1366.4,444.5 L1367.1,444.9 L1367.8,442.2 L1368.5,444.4 L1369.2,443.5 L1369.9,444.8 L1370.6,444.0 L1371.3,443.4 L1372.0,444.8 L1372.7,444.7 L1373.4,443.9 L1374.1,444.3 L1374.8,444.5 L1375.5,444.0 L1376.0,429.7 L1376.7,426.8 L1377.4,430.0 L1378.1,427.1 L1378.8,429.3 L1379.5,429.6 L1380.2,430.8 L1380.9,429.9 L1381.6,429.4 L1382.3,429.8 L1383.0,429.4 L1383.7,427.1 L1384.4,428.2 L1385.1,428.6 L1385.8,428.5 L1386.5,429.2 L1387.2,428.5 L1387.9,428.6 L1388.6,428.6 L1389.3,428.5 L1390.0,430.1 L1390.7,429.5 L1391.4,428.4 L1392.1,430.7 L1392.8,430.0 L1393.5,430.4 L1394.2,430.8 L1394.9,430.3 L1395.6,429.4 L1396.3,429.7 L1397.0,427.6 L1397.7,429.1 L1398.0,415.7 L1398.7,417.6 L1399.4,416.0 L1400.1,416.5 L1400.8,416.5 L1401.5,412.8 L1402.2,416.3 L1402.9,415.0 L1403.6,414.9 L1404.3,416.2 L1405.0,415.6 L1405.7,416.1 L1406.4,417.7 L1407.1,415.6 L1407.8,418.0 L1408.5,416.1 L1409.2,417.8 L1409.9,416.7 L1410.6,415.6 L1411.3,414.4 L1412.0,416.4 L1412.7,414.9 L1413.4,415.3 L1414.1,414.6 L1414.8,414.4 L1415.5,411.0 L1416.2,414.8 L1416.9,413.2 L1417.6,415.5 L1418.3,412.8 L1419.0,415.0 L1419.7,415.8 L1420.4,416.0 L1421.1,415.2 L1421.8,417.0 L1422.5,417.1 L1423.2,416.3 L1423.9,417.8 L1424.6,416.1 L1425.3,412.9 L1426.0,415.6 L1426.7,416.7 L1427.4,412.2 L1428.1,416.4 L1428.8,416.3 L1429.5,416.8 L1430.2,417.2 L1430.9,418.0 L1431.0,401.5 L1431.7,403.3 L1432.4,401.4 L1433.1,401.3 L1433.8,401.1 L1434.5,402.0 L1435.2,401.4 L1435.9,401.0 L1436.6,402.6 L1437.3,403.0 L1438.0,401.3 L1438.7,401.6 L1439.4,400.0 L1440.1,401.4 L1440.8,398.5 L1441.5,399.8 L1442.2,399.9 L1442.9,399.8 L1443.6,401.7 L1444.3,401.3 L1445.0,402.1 L1445.7,397.8 L1446.4,403.9 L1447.1,403.9 L1447.8,400.3 L1448.5,403.4 L1449.2,402.5 L1449.9,403.6 L1450.6,401.7 L1451.3,402.3 L1452.0,404.9 L1452.7,403.0 L1453.4,402.3 L1454.1,401.0 L1454.8,402.9 L1455.5,402.5 L1456.2,404.0 L1456.9,402.4 L1457.6,403.2 L1458.3,401.9 L1459.0,401.6 L1459.7,403.6 L1460.4,399.7 L1461.1,401.4 L1461.8,401.6 L1462.5,402.3 L1463.2,400.9 L1463.9,401.3 L1464.6,401.3 L1465.0,389.4 L1465.7,388.6 L1466.4,389.2 L1467.1,389.3 L1467.8,388.9 L1468.5,388.5 L1469.2,390.5 L1469.9,391.4 L1470.6,390.9 L1471.3,389.2 L1472.0,390.6 L1472.7,389.7 L1473.4,391.2 L1474.1,392.0 L1474.8,390.1 L1475.5,389.4 L1476.2,390.8 L1476.9,391.5 L1477.6,390.4 L1478.3,391.2 L1479.0,391.5 L1479.7,389.5 L1480.4,391.1 L1481.1,389.7 L1481.8,391.0 L1482.5,390.4 L1483.2,389.8 L1483.9,390.3 L1484.6,389.5 L1485.3,389.7 L1486.0,388.3 L1486.7,387.5 L1487.4,388.6 L1488.0,376.9 L1488.7,378.4 L1489.4,377.8 L1490.1,377.2 L1490.8,380.6 L1491.5,378.8 L1492.2,377.5 L1492.9,379.0 L1493.6,378.0 L1494.3,377.6 L1495.0,377.3 L1495.7,374.1 L1496.4,378.3 L1497.1,377.9 L1497.8,375.9 L1498.5,375.5 L1499.2,378.1 L1499.9,377.0 L1500.6,375.9 L1501.3,377.3 L1502.0,378.4 L1502.7,378.6 L1503.4,376.9 L1504.1,377.9 L1504.8,376.4 L1505.5,376.4 L1506.2,373.3 L1506.9,376.1 L1507.6,374.9 L1508.3,375.2 L1509.0,376.9 L1509.7,377.0 L1510.4,376.4 L1511.1,376.6 L1511.8,377.9 L1512.5,378.2 L1513.2,378.6 L1513.9,378.1 L1514.6,375.4 L1515.3,379.3 L1516.0,377.5 L1516.7,376.8 L1517.4,378.2 L1518.1,378.5 L1518.8,375.1 L1519.5,377.2 L1520.0,365.5 L1520.7,362.9 L1521.4,366.2 L1522.1,367.6 L1522.8,362.1 L1523.5,365.9 L1524.2,365.1 L1524.9,367.1 L1525.6,364.5 L1526.3,364.4 L1527.0,364.5 L1527.7,364.2 L1528.4,366.1 L1529.1,364.1 L1529.8,364.2 L1530.5,364.3 L1531.2,363.7 L1531.9,364.4 L1532.6,364.3 L1533.3,364.8 L1534.0,363.4 L1534.7,363.2 L1535.4,363.9 L1536.1,361.9 L1536.8,364.0 L1537.5,361.8 L1538.2,361.9 L1538.9,360.8 L1539.6,361.6 L1540.3,362.0 L1541.0,361.1 L1541.7,360.6 L1542.4,362.9 L1543.1,364.2 L1543.8,364.2 L1544.5,361.8 L1545.2,360.3 L1545.9,364.4 L1546.6,363.9 L1547.3,364.3 L1548.0,352.1 L1548.7,352.0 L1549.4,347.7 L1550.1,349.8 L1550.8,352.0 L1551.5,354.1 L1552.2,351.7 L1552.9,350.2 L1553.6,351.3 L1554.3,350.7 L1555.0,347.6 L1555.7,349.1 L1556.4,351.2 L1557.1,349.5 L1557.8,344.7 L1558.5,348.2 L1559.2,343.4 L1559.9,348.7 L1560.6,349.7 L1561.3,348.9 L1562.0,348.0 L1562.7,343.7 L1563.4,350.2 L1564.1,349.6 L1564.8,352.1 L1565.5,352.6 L1566.2,350.2 L1566.9,349.0 L1567.6,349.1 L1568.3,350.3 L1569.0,348.4 L1569.7,351.0 L1570.4,350.9 L1571.1,350.8 L1571.8,350.4 L1572.5,353.7 L1573.2,352.3 L1573.9,350.2 L1574.6,353.4 L1575.3,349.3 L1576.0,349.9 L1576.7,351.9 L1577.0,336.3 L1577.7,338.3 L1578.4,336.8 L1579.1,338.4 L1579.8,338.7 L1580.5,331.8 L1581.2,335.8 L1581.9,338.7 L1582.6,339.7 L1583.3,338.4 L1584.0,338.4 L1584.7,338.1 L1585.4,337.7 L1586.1,336.7 L1586.8,339.7 L1587.5,336.2 L1588.2,337.5 L1588.9,337.8 L1589.6,335.8 L1590.3,334.4 L1591.0,331.7 L1591.7,335.3 L1592.4,334.4 L1593.1,334.3 L1593.8,334.7 L1594.5,334.7 L1595.2,334.6 L1595.9,334.0 L1596.6,338.0 L1597.3,335.7 L1598.0,338.2 L1598.7,336.7 L1599.4,337.1 L1600.1,333.8 L1600.8,336.7 L1601.5,332.6 L1602.2,336.3 L1602.9,337.2 L1603.6,335.0 L1604.3,338.0 L1605.0,336.9 L1605.7,337.7 L1606.4,338.9 L1607.1,337.9 L1607.8,339.1 L1608.5,336.7 L1609.2,339.7 L1609.9,336.4 L1610.0,325.6 L1610.7,327.5 L1611.4,327.2 L1612.1,322.6 L1612.8,324.7 L1613.5,326.7 L1614.2,326.9 L1614.9,327.4 L1615.6,325.4 L1616.3,322.8 L1617.0,325.4 L1617.7,321.7 L1618.4,320.7 L1619.1,318.1 L1619.8,321.8 L1620.5,318.5 L1621.2,321.3 L1621.9,321.9 L1622.6,324.1 L1623.3,320.7 L1624.0,325.4 L1624.7,320.3 L1625.4,322.2 L1626.1,321.2 L1626.8,325.1 L1627.5,324.3 L1628.2,322.2 L1628.9,319.7 L1629.6,324.0 L1630.3,318.7 L1631.0,309.5 L1631.7,311.1 L1632.4,312.8 L1633.1,310.8 L1633.8,311.9 L1634.5,314.6 L1635.2,311.3 L1635.9,309.7 L1636.6,314.4 L1637.3,312.9 L1638.0,308.6 L1638.7,309.5 L1639.4,311.4 L1640.1,307.8 L1640.8,307.4 L1641.5,309.6 L1642.2,308.4 L1642.9,307.0 L1643.6,307.6 L1644.3,310.6 L1645.0,309.2 L1645.7,309.1 L1646.4,308.7 L1647.1,312.9 L1647.8,307.2 L1648.5,314.5 L1649.2,312.1 L1649.9,314.5 L1650.6,314.3 L1651.3,310.2 L1652.0,310.5 L1652.7,311.7 L1653.4,308.5 L1654.1,311.3 L1654.8,310.6 L1655.5,313.0 L1656.2,314.1 L1656.9,311.9 L1657.6,311.9 L1658.3,309.0 L1659.0,315.4 L1659.7,311.6 L1660.4,313.3 L1661.1,311.1 L1661.8,311.7 L1662.5,309.2 L1663.2,311.1 L1663.9,306.2 L1664.6,308.9 L1665.0,295.2 L1665.7,295.1 L1666.4,296.0 L1667.1,299.0 L1667.8,290.1 L1668.5,297.4 L1669.2,299.8 L1669.9,291.8 L1670.6,300.0 L1671.3,297.9 L1672.0,298.3 L1672.7,300.7 L1673.4,299.7 L1674.1,297.8 L1674.8,295.5 L1675.5,293.2 L1676.2,295.5 L1676.9,296.2 L1677.6,295.2 L1678.3,298.0 L1679.0,294.9 L1679.7,293.6 L1680.4,294.1 L1681.1,290.4 L1681.8,296.3 L1682.5,299.2 L1683.2,297.8 L1683.9,298.9 L1684.6,293.6 L1685.3,293.1 L1686.0,292.6 L1686.7,296.2 L1687.4,290.9 L1688.1,290.5 L1688.8,292.7 L1689.5,294.1 L1690.2,295.7 L1690.9,295.1 L1691.0,287.6 L1691.7,285.5 L1692.4,283.7 L1693.1,283.6 L1693.8,284.1 L1694.5,284.9 L1695.2,285.0 L1695.9,285.1 L1696.6,279.6 L1697.3,282.7 L1698.0,283.6 L1698.7,284.7 L1699.4,283.9 L1700.1,286.3 L1700.8,282.7 L1701.5,281.2 L1702.2,286.8 L1702.9,279.7 L1703.6,283.9 L1704.3,282.9 L1705.0,283.0 L1705.7,280.3 L1706.4,282.9 L1707.1,278.9 L1707.8,279.1 L1708.5,277.2 L1709.2,278.8 L1709.9,279.8 L1710.6,280.8 L1711.3,283.8 L1712.0,284.5 L1712.7,288.3 L1713.4,282.5 L1714.1,280.1 L1714.8,284.5 L1715.5,287.9 L1716.2,287.4 L1716.9,284.2 L1717.6,282.0 L1718.3,282.9 L1719.0,277.8 L1719.7,283.5 L1720.4,282.9 L1721.1,284.2 L1721.8,282.3 L1722.5,281.7 L1723.2,286.8 L1723.9,285.2 L1724.6,286.5 L1725.3,286.4 L1726.0,285.3 L1726.7,282.8 L1727.0,272.9 L1727.7,276.0 L1728.4,273.7 L1729.1,272.9 L1729.8,268.2 L1730.5,274.8 L1731.2,271.9 L1731.9,272.8 L1732.6,272.1 L1733.3,267.2 L1734.0,271.5 L1734.7,269.4 L1735.4,269.1 L1736.1,269.3 L1736.8,271.8 L1737.5,267.9 L1738.2,268.4 L1738.9,271.0 L1739.6,269.7 L1740.3,266.6 L1741.0,263.7 L1741.7,271.6 L1742.4,269.6 L1743.1,270.5 L1743.8,267.2 L1744.5,265.1 L1745.2,269.1 L1745.9,268.1 L1746.6,266.5 L1747.3,266.6 L1748.0,271.5 L1748.7,273.2 L1749.4,268.6 L1750.1,273.2 L1750.8,270.0 L1751.5,272.6 L1752.2,270.2 L1752.9,272.1 L1753.6,273.2 L1754.3,269.3 L1755.0,273.6 L1755.7,272.6 L1756.4,273.6 L1757.1,272.5 L1757.8,270.3 L1758.5,266.4 L1759.0,256.5 L1759.7,259.8 L1760.4,257.8 L1761.1,254.3 L1761.8,255.1 L1762.5,259.4 L1763.2,261.6 L1763.9,261.5 L1764.6,259.3 L1765.3,258.4 L1766.0,264.0 L1766.7,259.0 L1767.4,261.2 L1768.1,261.2 L1768.8,258.3 L1769.5,256.4 L1770.2,257.5 L1770.9,254.7 L1771.6,254.9 L1772.3,256.8 L1773.0,252.8 L1773.7,255.8 L1774.4,256.8 L1775.1,258.6 L1775.8,258.2 L1776.5,256.5 L1777.2,253.9 L1777.9,254.8 L1778.6,258.9 L1779.3,250.4 L1780.0,254.0 L1780.7,255.7 L1781.4,255.2 L1782.1,252.0 L1782.8,252.4 L1783.5,248.8 L1784.2,256.1 L1784.9,257.9 L1785.6,253.3 L1786.3,255.1 L1787.0,258.0 L1787.7,261.3 L1788.4,258.8 L1789.1,259.8 L1789.8,261.8 L1790.5,258.0 L1791.2,260.1 L1791.9,257.1 L1792.6,260.0 L1793.3,259.0 L1794.0,256.2 L1794.7,254.7 L1795.4,259.3 L1796.1,255.1 L1796.8,254.8 L1797.5,259.0 L1798.2,255.8 L1798.9,261.2 L1799.6,259.2 L1800.3,252.1 L1801.0,258.6 L1801.7,260.3 L1802.4,253.9 L1803.1,248.2 L1803.8,254.3 L1804.5,254.4 L1805.2,254.1 L1805.9,251.8 L1806.6,251.7 L1807.3,253.0 L1808.0,252.7 L1808.7,255.9 L1809.4,255.0 L1810.1,258.7 L1810.8,252.6 L1811.5,257.8 L1812.2,255.9 L1812.9,254.5 L1813.6,254.4 L1814.3,259.1 L1815.0,260.1 L1815.7,257.9 L1816.4,258.1 L1817.1,260.4 L1817.8,253.7 L1818.5,260.6 L1819.2,255.1 L1819.9,253.3 L1820.6,261.7 L1821.3,254.9 L1822.0,257.7 L1822.7,262.8 L1823.4,264.1 L1824.1,259.8 L1824.8,263.2 L1825.5,264.3 L1826.2,254.0 L1826.9,262.3 L1827.6,258.3 L1828.3,254.3 L1829.0,257.7 L1829.7,253.9 L1830.4,255.5 L1831.1,258.0 L1831.8,257.5 L1832.5,256.8 L1833.2,258.8 L1833.9,256.2 L1834.6,258.0 L1835.3,260.7 L1836.0,258.7 L1836.7,258.0 L1837.4,255.0 L1838.1,255.8 L1838.8,260.2 L1839.5,259.0 L1840.2,257.5 L1840.9,253.0 L1841.6,256.9 L1842.3,252.8 L1843.0,257.0 L1843.7,262.6 L1844.4,258.1 L1845.1,263.5 L1845.8,262.8 L1846.5,260.6 L1847.2,259.2 L1847.9,262.4 L1848.6,259.7 L1849.3,262.3 L1850.0,263.2 L1850.7,262.3 L1851.4,262.8 L1852.1,261.1 L1852.8,256.7 L1853.5,254.6 L1854.2,259.6 L1854.9,254.5 L1855.6,257.7 L1856.3,257.4 L1857.0,259.1 L1857.7,261.8 L1858.4,257.7 L1859.1,261.7 L1859.8,254.2 L1860.5,258.9 L1861.2,255.4 L1861.9,261.1 L1862.6,260.0 L1863.3,256.5 L1864.0,254.4 L1864.7,256.7 L1865.4,255.5 L1866.1,257.7 L1866.8,257.9 L1867.5,260.3 L1868.2,258.4 L1868.9,261.7 L1869.6,263.6 L1870.3,260.0 L1871.0,259.6 L1871.7,259.4 L1872.4,262.4 L1873.1,264.2 L1873.8,261.0 L1874.5,263.8 L1875.2,260.5 L1875.9,261.5 L1876.6,261.4 L1877.3,258.3 L1878.0,253.6 L1878.7,260.7 L1879.4,259.6 L1880.1,256.5 L1880.8,258.0 L1881.5,254.9 L1882.2,261.9 L1882.9,256.9 L1883.6,256.4 L1884.3,257.8 L1885.0,257.7 L1885.7,258.0 L1886.4,257.2 L1887.1,254.5 L1887.8,256.1 L1888.5,258.9 L1889.2,255.7 L1889.9,253.2 L1890.6,250.9 L1891.3,257.3 L1892.0,251.8 L1892.7,256.7 L1893.4,253.3 L1894.1,258.5 L1894.8,261.2 L1895.5,258.0 L1896.2,261.6 L1896.9,256.8 L1897.6,256.3 L1898.3,261.7 L1899.0,258.0 L1899.7,259.9 L1900.4,261.6 L1901.1,258.1 L1901.8,257.7 L1902.5,258.8 L1903.2,261.8 L1903.9,261.6 L1904.6,253.0 L1905.3,257.3 L1906.0,260.9 L1906.7,258.6 L1907.4,260.9 L1908.1,257.5 L1908.8,258.1 L1909.5,256.4 L1910.2,258.9 L1910.9,254.8 L1911.6,257.3 L1912.3,252.4 L1913.0,252.5 L1913.7,250.5 L1914.4,252.6 L1915.1,254.4 L1915.8,247.7 L1916.5,246.9 L1917.2,254.1 L1917.9,259.8 L1918.6,257.3 L1919.3,256.7 L1920.0,258.7 L1920.7,260.0 L1921.4,252.8 L1922.1,254.8 L1922.8,255.8 L1923.5,252.6 L1924.2,257.6 L1924.9,253.8 L1925.6,254.6 L1926.3,255.7 L1927.0,258.9 L1927.7,256.4 L1928.4,262.9 L1929.1,261.1 L1929.8,260.1 L1930.5,261.1 L1931.2,263.6 L1931.9,258.9 L1932.6,259.1 L1933.3,260.9 L1934.0,258.1 L1934.7,257.9 L1935.4,255.7 L1936.1,253.9 L1936.8,252.0 L1937.5,252.0 L1938.2,254.0 L1938.9,246.0 L1939.6,246.5 L1940.3,251.4 L1941.0,250.6 L1941.7,256.6 L1942.4,256.1 L1943.1,254.5 L1943.8,255.7 L1944.5,251.1 L1945.2,256.5 L1945.9,259.5 L1946.6,259.0 L1947.3,252.7 L1948.0,256.8 L1948.7,254.9 L1949.4,256.3 L1950.1,250.8 L1950.8,258.7 L1951.5,256.1 L1952.2,258.8 L1952.9,258.0 L1953.6,259.9 L1954.3,259.0 L1955.0,262.1 L1955.7,262.6 L1956.4,257.7 L1957.1,259.8 L1957.8,261.7 L1958.5,259.0 L1959.2,258.5 L1959.9,260.0 L1960.6,255.5 L1961.3,257.4 L1962.0,253.1 L1962.7,257.4 L1963.4,257.7 L1964.1,257.8 L1964.8,259.9 L1965.5,260.5 L1966.2,256.0 L1966.9,258.8 L1967.6,257.2 L1968.3,256.8 L1969.0,259.0 L1969.7,256.4 L1970.4,258.6 L1971.1,255.1 L1971.8,254.0 L1972.5,257.2 L1973.2,254.7 L1973.9,258.2 L1974.6,257.3 L1975.3,259.3 L1976.0,259.8 L1976.7,258.0 L1977.4,261.6 L1978.1,262.4 L1978.8,261.9 L1979.5,263.1 L1980.2,262.1 L1980.9,264.1 L1981.6,262.3 L1982.3,261.3 L1983.0,261.7 L1983.7,259.2 L1984.4,261.9 L1985.1,261.2 L1985.8,261.3 L1986.5,257.7 L1987.2,259.2 L1987.9,258.6 L1988.6,260.8 L1989.3,262.5 L1990.0,260.6 L1990.7,262.9 L1991.4,260.8 L1992.1,262.9 L1992.8,262.0 L1993.5,262.5 L1994.2,261.6 L1994.9,260.0 L1995.6,260.4 L1996.3,256.1 L1997.0,257.6 L1997.7,258.5 L1998.4,258.2 L1999.1,257.4 L1999.8,258.5 L2000.5,260.0 L2001.2,261.5 L2001.9,259.7 L2002.6,261.7 L2003.3,261.6 L2004.0,265.3 L2004.7,263.8 L2005.4,262.4 L2006.1,261.0 L2006.8,263.5 L2007.5,262.7 L2008.2,258.2 L2008.9,261.4 L2009.6,259.3 L2010.3,260.2 L2011.0,263.8 L2011.7,259.2 L2012.4,261.3 L2013.1,262.1 L2013.8,260.4 L2014.5,261.9 L2015.2,259.9 L2015.9,261.2 L2016.6,262.4 L2017.3,260.6 L2018.0,259.6 L2018.7,260.4 L2019.4,256.0 L2020.1,258.7 L2020.8,259.9 L2021.5,259.6 L2022.2,250.9 L2022.9,258.0 L2023.6,257.7 L2024.3,256.3 L2025.0,261.2 L2025.7,260.4 L2026.4,260.0 L2027.1,261.6 L2027.8,263.3 L2028.5,261.0 L2029.2,260.7 L2029.9,257.3 L2030.6,260.8 L2031.3,259.7 L2032.0,258.8 L2032.7,260.9 L2033.4,260.0 L2034.1,260.8 L2034.8,262.6 L2035.5,260.7 L2036.2,260.5 L2036.9,258.8 L2037.6,265.5 L2038.3,261.2 L2039.0,262.6 L2039.7,258.1 L2040.4,260.2 L2041.1,261.9 L2041.8,263.0 L2042.5,260.1 L2043.2,261.5 L2043.9,259.5 L2044.6,252.0 L2045.3,258.3 L2046.0,256.6 L2046.7,257.8 L2047.4,257.4 L2048.1,258.4 L2048.8,257.6 L2049.5,254.2 L2050.2,256.3 L2050.9,257.6 L2051.6,258.1 L2052.3,256.7 L2053.0,259.5 L2053.7,259.0 L2054.4,255.1 L2055.1,258.6 L2055.8,258.3 L2056.5,260.9 L2057.2,258.6 L2057.9,254.4 L2058.6,258.2 L2059.3,259.3 L2060.0,260.1 L2060.7,258.6 L2061.4,263.6 L2062.1,261.2 L2062.8,265.2 L2063.5,265.0 L2064.2,257.1 L2064.9,255.6 L2065.6,263.1 L2066.3,251.9 L2067.0,256.7 L2067.7,260.6 L2068.4,255.6 L2069.1,256.7 L2069.8,260.8 L2070.5,257.7 L2071.2,256.4 L2071.9,259.1 L2072.6,259.9 L2073.3,256.3 L2074.0,255.3 L2074.7,254.7 L2075.4,255.9 L2076.1,256.2 L2076.8,251.4 L2077.5,252.8 L2078.2,257.2 L2078.9,257.2 L2079.6,257.1 L2080.3,257.5 L2081.0,257.2 L2081.7,247.7 L2082.4,253.0 L2083.1,257.5 L2083.8,256.5 L2084.5,258.5 L2085.2,258.8 L2085.9,262.8 L2086.6,258.9 L2087.3,261.4 L2088.0,259.7 L2088.7,261.8 L2089.4,261.9 L2090.1,258.3 L2090.8,258.7 L2091.5,258.7 L2092.2,255.0 L2092.9,259.8 L2093.6,259.2 L2094.3,257.7 L2095.0,260.7 L2095.7,256.2 L2096.4,255.7 L2097.1,258.9 L2097.8,258.7 L2098.5,260.9 L2099.2,257.6 L2099.9,258.5 L2100.6,257.9 L2101.3,257.5 L2102.0,257.6 L2102.7,255.5 L2103.4,256.5 L2104.1,257.4 L2104.8,256.4 L2105.5,257.8 L2106.2,252.8 L2106.9,254.6 L2107.6,255.9 L2108.3,258.4 L2109.0,259.2 L2109.7,259.8 L2110.4,257.7 L2111.1,260.5 L2111.8,261.9 L2112.5,257.8 L2113.2,263.5 L2113.9,263.2 L2114.6,257.9 L2115.3,258.0 L2116.0,260.6 L2116.7,258.9 L2117.4,259.6 L2118.1,259.6 L2118.8,254.6 L2119.5,261.2 L2120.2,260.6 L2120.9,260.5 L2121.6,258.9 L2122.3,258.2 L2123.0,262.0 L2123.7,261.5 L2124.4,262.0 L2125.1,259.0 L2125.8,260.1 L2126.5,259.3 L2127.2,258.3 L2127.9,255.1 L2128.6,257.7 L2129.3,258.3 L2130.0,257.8 L2130.7,256.3 L2131.4,258.4 L2132.1,261.0 L2132.8,257.6 L2133.5,262.1 L2134.2,256.5 L2134.9,256.3 L2135.6,258.3 L2136.3,257.6 L2137.0,259.2 L2137.7,255.9 L2138.4,260.5 L2139.1,259.2 L2139.8,261.4 L2140.5,259.1 L2141.2,258.5 L2141.9,260.9 L2142.6,261.3 L2143.3,261.8 L2144.0,257.7 L2144.7,262.7 L2145.4,262.6 L2146.1,263.6 L2146.8,263.5 L2147.5,260.1 L2148.2,260.4 L2148.9,260.9 L2149.6,261.8 L2150.3,259.6 L2151.0,259.8 L2151.7,259.4 L2152.4,257.1 L2153.1,259.9 L2153.8,256.4 L2154.5,259.6 L2155.2,259.7 L2155.9,260.9 L2156.6,257.0 L2157.3,259.2 L2158.0,262.2 L2158.7,259.4 L2159.4,260.0 L2160.1,259.7 L2160.8,259.8 L2161.5,259.4 L2162.2,258.9 L2162.9,259.4 L2163.6,255.2 L2164.3,253.2 L2165.0,256.9 L2165.7,255.5 L2166.4,255.7 L2167.1,261.0 L2167.8,261.5 L2168.5,260.9 L2169.2,261.8 L2169.9,259.1 L2170.6,260.4 L2171.3,263.7 L2172.0,265.0 L2172.7,261.0 L2173.4,253.9 L2174.1,260.5 L2174.8,258.9 L2175.5,258.6 L2176.2,258.2 L2176.9,255.1 L2177.6,259.3 L2178.3,255.8 L2179.0,256.4 L2179.7,258.5 L2180.4,260.4 L2181.1,258.2 L2181.8,258.6 L2182.5,259.1 L2183.2,259.6 L2183.9,259.5 L2184.6,254.9 L2185.3,250.3 L2186.0,254.1 L2186.7,254.7 L2187.4,254.7 L2188.1,255.2 L2188.8,252.7 L2189.5,258.2 L2190.2,255.4 L2190.9,257.7 L2191.6,257.0 L2192.3,253.9 L2193.0,253.9 L2193.7,255.3 L2194.4,250.6 L2195.1,261.8 L2195.8,258.2 L2196.5,253.9 L2197.2,260.5 L2197.9,253.5 L2198.6,258.5 L2199.3,259.6 L2200.0,254.4 L2200.7,255.9 L2201.4,259.8 L2202.1,255.4 L2202.8,253.9 L2203.5,253.7 L2204.2,252.3 L2204.9,253.8 L2205.6,255.4 L2206.3,256.4 L2207.0,258.5 L2207.7,252.8 L2208.4,253.8 L2209.1,254.5 L2209.8,250.1 L2210.5,250.1 L2211.2,249.9 L2211.9,255.4 L2212.6,252.0 L2213.3,243.9 L2214.0,249.7 L2214.7,252.6 L2215.4,253.1 L2216.1,257.3 L2216.8,253.7 L2217.5,250.0 L2218.2,255.3 L2218.9,261.4 L2219.6,258.7 L2220.3,256.3 L2221.0,256.7 L2221.7,254.0 L2222.4,259.3 L2223.1,254.7 L2223.8,259.4 L2224.5,255.0 L2225.2,254.8 L2225.9,260.5 L2226.6,258.2 L2227.3,259.1 L2228.0,255.1 L2228.7,258.4 L2229.4,260.4 L2230.1,259.6 L2230.8,258.0 L2231.5,256.4 L2232.2,261.4 L2232.9,252.5 L2233.6,255.2 L2234.3,255.3 L2235.0,253.8 L2235.7,253.9 L2236.4,249.2 L2237.1,254.8 L2237.8,254.5 L2238.5,256.2 L2239.2,256.6 L2239.9,249.4 L2240.6,255.9 L2241.3,254.2 L2242.0,257.6 L2242.7,257.2 L2243.4,255.1 L2244.1,253.4 L2244.8,254.3 L2245.5,260.3 L2246.2,260.2 L2246.9,251.4 L2247.6,260.5 L2248.3,256.7 L2249.0,256.3 L2249.7,257.9 L2250.4,257.9 L2251.1,259.5 L2251.8,259.2 L2252.5,261.4 L2253.2,257.7 L2253.9,258.9 L2254.6,260.2 L2255.3,258.8 L2256.0,262.0 L2256.7,261.3 L2257.4,261.5 L2258.1,256.4 L2258.8,257.6 L2259.5,254.8 L2259.5,278.0 L2258.8,275.2 L2258.1,285.1 L2257.4,276.2 L2256.7,277.8 L2256.0,283.1 L2255.3,285.9 L2254.6,280.2 L2253.9,291.7 L2253.2,287.0 L2252.5,284.0 L2251.8,283.5 L2251.1,284.5 L2250.4,279.6 L2249.7,277.3 L2249.0,276.8 L2248.3,278.5 L2247.6,278.8 L2246.9,279.6 L2246.2,277.6 L2245.5,283.6 L2244.8,280.4 L2244.1,280.5 L2243.4,278.5 L2242.7,279.9 L2242.0,281.0 L2241.3,273.6 L2240.6,277.8 L2239.9,278.9 L2239.2,286.3 L2238.5,275.8 L2237.8,273.9 L2237.1,272.4 L2236.4,278.1 L2235.7,281.2 L2235.0,276.5 L2234.3,273.7 L2233.6,277.8 L2232.9,280.1 L2232.2,280.5 L2231.5,287.2 L2230.8,280.1 L2230.1,283.8 L2229.4,280.1 L2228.7,282.4 L2228.0,284.1 L2227.3,284.8 L2226.6,280.5 L2225.9,284.3 L2225.2,278.8 L2224.5,280.4 L2223.8,280.1 L2223.1,285.0 L2222.4,281.1 L2221.7,290.8 L2221.0,280.1 L2220.3,280.0 L2219.6,281.0 L2218.9,283.4 L2218.2,281.9 L2217.5,280.1 L2216.8,279.4 L2216.1,281.5 L2215.4,279.1 L2214.7,274.3 L2214.0,278.3 L2213.3,273.1 L2212.6,274.3 L2211.9,274.1 L2211.2,275.6 L2210.5,275.1 L2209.8,278.6 L2209.1,276.5 L2208.4,279.4 L2207.7,282.4 L2207.0,278.4 L2206.3,280.3 L2205.6,287.3 L2204.9,280.3 L2204.2,277.7 L2203.5,280.9 L2202.8,278.8 L2202.1,286.6 L2201.4,283.3 L2200.7,280.9 L2200.0,280.7 L2199.3,282.5 L2198.6,276.3 L2197.9,280.8 L2197.2,280.1 L2196.5,282.8 L2195.8,280.3 L2195.1,284.4 L2194.4,289.6 L2193.7,282.1 L2193.0,281.2 L2192.3,284.6 L2191.6,281.0 L2190.9,275.9 L2190.2,277.5 L2189.5,275.8 L2188.8,275.7 L2188.1,273.9 L2187.4,277.9 L2186.7,273.0 L2186.0,280.0 L2185.3,273.4 L2184.6,281.4 L2183.9,280.0 L2183.2,277.8 L2182.5,278.0 L2181.8,278.9 L2181.1,274.7 L2180.4,276.9 L2179.7,273.7 L2179.0,277.1 L2178.3,278.0 L2177.6,273.4 L2176.9,273.2 L2176.2,275.4 L2175.5,278.3 L2174.8,277.4 L2174.1,279.1 L2173.4,279.6 L2172.7,281.2 L2172.0,278.8 L2171.3,283.1 L2170.6,279.5 L2169.9,281.7 L2169.2,278.1 L2168.5,279.7 L2167.8,276.1 L2167.1,276.4 L2166.4,277.4 L2165.7,273.9 L2165.0,275.6 L2164.3,275.1 L2163.6,274.9 L2162.9,273.7 L2162.2,274.4 L2161.5,273.7 L2160.8,272.1 L2160.1,278.4 L2159.4,273.6 L2158.7,275.0 L2158.0,274.4 L2157.3,275.8 L2156.6,273.1 L2155.9,274.1 L2155.2,271.1 L2154.5,277.6 L2153.8,272.9 L2153.1,275.5 L2152.4,274.5 L2151.7,274.8 L2151.0,277.4 L2150.3,272.4 L2149.6,277.7 L2148.9,276.4 L2148.2,276.8 L2147.5,277.9 L2146.8,276.6 L2146.1,277.6 L2145.4,279.1 L2144.7,282.8 L2144.0,275.5 L2143.3,279.0 L2142.6,275.3 L2141.9,275.7 L2141.2,273.3 L2140.5,275.3 L2139.8,276.1 L2139.1,274.7 L2138.4,272.5 L2137.7,274.2 L2137.0,277.1 L2136.3,278.4 L2135.6,273.9 L2134.9,278.0 L2134.2,279.1 L2133.5,277.2 L2132.8,277.7 L2132.1,273.5 L2131.4,276.3 L2130.7,276.2 L2130.0,272.4 L2129.3,270.3 L2128.6,273.9 L2127.9,274.9 L2127.2,271.4 L2126.5,275.1 L2125.8,272.8 L2125.1,278.8 L2124.4,280.2 L2123.7,275.6 L2123.0,275.2 L2122.3,274.3 L2121.6,277.5 L2120.9,274.5 L2120.2,280.7 L2119.5,278.9 L2118.8,276.2 L2118.1,277.5 L2117.4,277.4 L2116.7,276.8 L2116.0,276.0 L2115.3,276.5 L2114.6,275.6 L2113.9,277.6 L2113.2,276.8 L2112.5,281.1 L2111.8,276.9 L2111.1,283.5 L2110.4,275.8 L2109.7,279.5 L2109.0,274.0 L2108.3,282.1 L2107.6,276.1 L2106.9,276.8 L2106.2,275.3 L2105.5,277.0 L2104.8,274.4 L2104.1,281.4 L2103.4,272.8 L2102.7,272.8 L2102.0,273.1 L2101.3,274.2 L2100.6,278.5 L2099.9,276.5 L2099.2,275.4 L2098.5,277.4 L2097.8,279.5 L2097.1,281.3 L2096.4,277.3 L2095.7,275.8 L2095.0,277.4 L2094.3,277.6 L2093.6,277.4 L2092.9,277.9 L2092.2,279.0 L2091.5,276.8 L2090.8,283.9 L2090.1,284.5 L2089.4,280.5 L2088.7,279.1 L2088.0,280.2 L2087.3,283.1 L2086.6,277.8 L2085.9,279.4 L2085.2,278.9 L2084.5,281.0 L2083.8,276.7 L2083.1,275.3 L2082.4,273.6 L2081.7,276.1 L2081.0,273.3 L2080.3,274.6 L2079.6,274.0 L2078.9,279.2 L2078.2,272.9 L2077.5,272.5 L2076.8,276.2 L2076.1,274.6 L2075.4,278.0 L2074.7,274.0 L2074.0,277.7 L2073.3,277.2 L2072.6,287.0 L2071.9,278.1 L2071.2,272.3 L2070.5,278.1 L2069.8,273.4 L2069.1,276.3 L2068.4,277.1 L2067.7,277.0 L2067.0,276.8 L2066.3,278.2 L2065.6,282.8 L2064.9,278.5 L2064.2,280.0 L2063.5,281.9 L2062.8,277.1 L2062.1,287.9 L2061.4,279.5 L2060.7,277.7 L2060.0,276.9 L2059.3,279.2 L2058.6,277.5 L2057.9,277.5 L2057.2,278.4 L2056.5,275.5 L2055.8,276.1 L2055.1,276.5 L2054.4,279.5 L2053.7,274.6 L2053.0,278.1 L2052.3,277.5 L2051.6,276.0 L2050.9,275.5 L2050.2,277.8 L2049.5,276.4 L2048.8,275.3 L2048.1,273.1 L2047.4,272.9 L2046.7,273.8 L2046.0,274.5 L2045.3,273.0 L2044.6,275.6 L2043.9,277.1 L2043.2,276.8 L2042.5,276.7 L2041.8,275.4 L2041.1,277.6 L2040.4,275.7 L2039.7,278.4 L2039.0,277.6 L2038.3,279.2 L2037.6,284.3 L2036.9,279.9 L2036.2,278.5 L2035.5,276.3 L2034.8,276.9 L2034.1,276.3 L2033.4,277.3 L2032.7,277.8 L2032.0,275.5 L2031.3,280.5 L2030.6,274.9 L2029.9,275.8 L2029.2,275.8 L2028.5,274.2 L2027.8,278.0 L2027.1,275.1 L2026.4,276.4 L2025.7,273.2 L2025.0,273.0 L2024.3,272.3 L2023.6,273.8 L2022.9,273.3 L2022.2,273.7 L2021.5,270.3 L2020.8,270.7 L2020.1,275.2 L2019.4,270.7 L2018.7,273.8 L2018.0,275.5 L2017.3,276.1 L2016.6,274.7 L2015.9,273.1 L2015.2,275.2 L2014.5,275.2 L2013.8,275.4 L2013.1,276.2 L2012.4,275.7 L2011.7,275.4 L2011.0,273.2 L2010.3,275.3 L2009.6,274.3 L2008.9,274.1 L2008.2,274.4 L2007.5,275.4 L2006.8,274.6 L2006.1,277.7 L2005.4,275.5 L2004.7,273.8 L2004.0,276.0 L2003.3,277.2 L2002.6,278.6 L2001.9,275.8 L2001.2,276.2 L2000.5,275.8 L1999.8,272.6 L1999.1,272.8 L1998.4,273.8 L1997.7,272.0 L1997.0,271.8 L1996.3,272.5 L1995.6,272.2 L1994.9,273.8 L1994.2,273.8 L1993.5,274.2 L1992.8,277.1 L1992.1,275.4 L1991.4,276.2 L1990.7,275.7 L1990.0,276.3 L1989.3,275.0 L1988.6,274.3 L1987.9,277.6 L1987.2,272.3 L1986.5,274.4 L1985.8,275.8 L1985.1,277.3 L1984.4,276.9 L1983.7,275.7 L1983.0,277.1 L1982.3,278.5 L1981.6,274.8 L1980.9,278.8 L1980.2,277.3 L1979.5,276.0 L1978.8,275.8 L1978.1,275.6 L1977.4,278.2 L1976.7,277.6 L1976.0,274.2 L1975.3,275.5 L1974.6,275.2 L1973.9,273.7 L1973.2,272.0 L1972.5,274.1 L1971.8,274.9 L1971.1,273.2 L1970.4,275.2 L1969.7,273.1 L1969.0,283.8 L1968.3,274.9 L1967.6,277.6 L1966.9,275.3 L1966.2,277.3 L1965.5,278.6 L1964.8,274.3 L1964.1,275.8 L1963.4,276.2 L1962.7,276.5 L1962.0,273.2 L1961.3,277.0 L1960.6,277.2 L1959.9,278.6 L1959.2,277.5 L1958.5,278.5 L1957.8,278.8 L1957.1,278.5 L1956.4,278.0 L1955.7,284.7 L1955.0,279.7 L1954.3,283.4 L1953.6,282.9 L1952.9,277.5 L1952.2,279.8 L1951.5,281.3 L1950.8,278.8 L1950.1,280.8 L1949.4,279.7 L1948.7,273.8 L1948.0,276.1 L1947.3,275.1 L1946.6,276.7 L1945.9,277.8 L1945.2,279.0 L1944.5,282.4 L1943.8,286.0 L1943.1,278.3 L1942.4,277.0 L1941.7,277.5 L1941.0,272.8 L1940.3,273.6 L1939.6,277.2 L1938.9,275.6 L1938.2,273.1 L1937.5,277.8 L1936.8,273.3 L1936.1,277.3 L1935.4,283.2 L1934.7,278.7 L1934.0,286.8 L1933.3,280.4 L1932.6,279.2 L1931.9,283.2 L1931.2,284.0 L1930.5,284.7 L1929.8,280.8 L1929.1,284.7 L1928.4,279.9 L1927.7,277.7 L1927.0,279.6 L1926.3,280.4 L1925.6,277.8 L1924.9,283.1 L1924.2,283.5 L1923.5,279.6 L1922.8,283.8 L1922.1,275.6 L1921.4,276.1 L1920.7,279.0 L1920.0,276.3 L1919.3,279.7 L1918.6,280.3 L1917.9,278.0 L1917.2,278.8 L1916.5,274.7 L1915.8,278.5 L1915.1,277.8 L1914.4,274.3 L1913.7,273.1 L1913.0,278.7 L1912.3,276.4 L1911.6,279.6 L1910.9,278.4 L1910.2,282.7 L1909.5,275.2 L1908.8,276.7 L1908.1,281.9 L1907.4,280.3 L1906.7,280.7 L1906.0,279.8 L1905.3,276.9 L1904.6,278.6 L1903.9,276.8 L1903.2,277.1 L1902.5,277.3 L1901.8,279.5 L1901.1,277.9 L1900.4,282.4 L1899.7,285.8 L1899.0,278.1 L1898.3,281.6 L1897.6,277.3 L1896.9,282.1 L1896.2,280.7 L1895.5,280.9 L1894.8,282.8 L1894.1,281.4 L1893.4,280.0 L1892.7,277.4 L1892.0,276.8 L1891.3,279.1 L1890.6,272.9 L1889.9,275.8 L1889.2,276.5 L1888.5,272.8 L1887.8,273.4 L1887.1,277.3 L1886.4,277.3 L1885.7,277.2 L1885.0,277.0 L1884.3,277.6 L1883.6,279.6 L1882.9,280.3 L1882.2,281.2 L1881.5,274.1 L1880.8,278.6 L1880.1,274.6 L1879.4,276.6 L1878.7,276.8 L1878.0,281.6 L1877.3,275.7 L1876.6,275.0 L1875.9,282.6 L1875.2,279.6 L1874.5,282.2 L1873.8,277.1 L1873.1,280.6 L1872.4,279.8 L1871.7,281.8 L1871.0,279.1 L1870.3,282.1 L1869.6,279.8 L1868.9,277.1 L1868.2,282.9 L1867.5,277.4 L1866.8,275.7 L1866.1,276.8 L1865.4,275.3 L1864.7,275.1 L1864.0,274.4 L1863.3,272.2 L1862.6,280.9 L1861.9,274.4 L1861.2,276.7 L1860.5,277.1 L1859.8,277.8 L1859.1,276.4 L1858.4,275.6 L1857.7,275.3 L1857.0,277.3 L1856.3,271.9 L1855.6,272.9 L1854.9,272.1 L1854.2,276.9 L1853.5,276.1 L1852.8,275.4 L1852.1,275.7 L1851.4,278.2 L1850.7,280.5 L1850.0,275.4 L1849.3,276.3 L1848.6,282.8 L1847.9,276.9 L1847.2,276.9 L1846.5,276.7 L1845.8,276.1 L1845.1,279.2 L1844.4,279.6 L1843.7,275.3 L1843.0,279.1 L1842.3,276.3 L1841.6,275.5 L1840.9,274.6 L1840.2,276.2 L1839.5,278.3 L1838.8,277.8 L1838.1,278.0 L1837.4,275.8 L1836.7,276.8 L1836.0,275.5 L1835.3,277.8 L1834.6,277.9 L1833.9,275.2 L1833.2,275.7 L1832.5,274.9 L1831.8,280.0 L1831.1,271.6 L1830.4,279.5 L1829.7,272.6 L1829.0,275.4 L1828.3,275.0 L1827.6,276.1 L1826.9,276.9 L1826.2,282.5 L1825.5,281.7 L1824.8,277.7 L1824.1,280.3 L1823.4,282.2 L1822.7,284.7 L1822.0,279.4 L1821.3,281.1 L1820.6,279.2 L1819.9,278.1 L1819.2,280.8 L1818.5,278.3 L1817.8,283.6 L1817.1,279.5 L1816.4,281.4 L1815.7,280.3 L1815.0,280.2 L1814.3,281.6 L1813.6,277.7 L1812.9,281.7 L1812.2,279.4 L1811.5,283.2 L1810.8,276.1 L1810.1,277.3 L1809.4,276.3 L1808.7,275.1 L1808.0,275.8 L1807.3,270.7 L1806.6,277.1 L1805.9,271.6 L1805.2,274.9 L1804.5,274.3 L1803.8,278.3 L1803.1,280.0 L1802.4,274.9 L1801.7,276.2 L1801.0,281.5 L1800.3,283.0 L1799.6,278.7 L1798.9,281.4 L1798.2,278.8 L1797.5,278.9 L1796.8,281.8 L1796.1,279.6 L1795.4,282.8 L1794.7,284.7 L1794.0,282.8 L1793.3,278.3 L1792.6,280.5 L1791.9,282.1 L1791.2,280.8 L1790.5,278.8 L1789.8,282.6 L1789.1,283.4 L1788.4,285.7 L1787.7,282.0 L1787.0,283.9 L1786.3,281.4 L1785.6,277.4 L1784.9,275.8 L1784.2,280.4 L1783.5,277.8 L1782.8,284.9 L1782.1,274.4 L1781.4,278.0 L1780.7,276.5 L1780.0,276.5 L1779.3,278.9 L1778.6,278.3 L1777.9,277.3 L1777.2,281.7 L1776.5,276.1 L1775.8,282.1 L1775.1,279.2 L1774.4,279.2 L1773.7,280.9 L1773.0,275.7 L1772.3,275.4 L1771.6,282.3 L1770.9,277.2 L1770.2,277.5 L1769.5,283.8 L1768.8,279.3 L1768.1,282.1 L1767.4,281.3 L1766.7,277.4 L1766.0,284.1 L1765.3,281.2 L1764.6,288.2 L1763.9,282.2 L1763.2,276.9 L1762.5,277.2 L1761.8,279.4 L1761.1,277.7 L1760.4,276.0 L1759.7,278.9 L1759.0,279.9 L1758.5,288.9 L1757.8,290.6 L1757.1,284.6 L1756.4,286.4 L1755.7,290.0 L1755.0,288.9 L1754.3,291.8 L1753.6,294.9 L1752.9,288.7 L1752.2,289.7 L1751.5,288.3 L1750.8,295.4 L1750.1,289.4 L1749.4,286.7 L1748.7,288.9 L1748.0,289.1 L1747.3,284.5 L1746.6,287.8 L1745.9,286.2 L1745.2,282.0 L1744.5,288.5 L1743.8,286.5 L1743.1,284.6 L1742.4,286.9 L1741.7,285.6 L1741.0,288.9 L1740.3,288.4 L1739.6,283.9 L1738.9,283.5 L1738.2,284.4 L1737.5,286.8 L1736.8,284.7 L1736.1,284.8 L1735.4,283.6 L1734.7,283.5 L1734.0,285.1 L1733.3,292.9 L1732.6,287.5 L1731.9,289.8 L1731.2,289.1 L1730.5,286.9 L1729.8,289.3 L1729.1,290.5 L1728.4,293.0 L1727.7,290.4 L1727.0,289.2 L1726.7,301.2 L1726.0,300.0 L1725.3,303.3 L1724.6,304.6 L1723.9,311.7 L1723.2,308.1 L1722.5,301.6 L1721.8,304.8 L1721.1,302.8 L1720.4,301.2 L1719.7,300.6 L1719.0,302.8 L1718.3,302.6 L1717.6,303.2 L1716.9,306.0 L1716.2,302.8 L1715.5,304.6 L1714.8,304.1 L1714.1,302.3 L1713.4,305.3 L1712.7,306.5 L1712.0,306.2 L1711.3,303.3 L1710.6,297.8 L1709.9,297.0 L1709.2,303.1 L1708.5,296.9 L1707.8,299.2 L1707.1,303.8 L1706.4,301.0 L1705.7,304.8 L1705.0,298.7 L1704.3,301.2 L1703.6,303.0 L1702.9,304.0 L1702.2,302.7 L1701.5,309.0 L1700.8,302.9 L1700.1,309.1 L1699.4,301.9 L1698.7,304.0 L1698.0,302.4 L1697.3,305.0 L1696.6,304.9 L1695.9,302.2 L1695.2,299.6 L1694.5,301.4 L1693.8,303.3 L1693.1,305.1 L1692.4,306.2 L1691.7,305.5 L1691.0,305.8 L1690.9,311.9 L1690.2,312.5 L1689.5,313.4 L1688.8,309.5 L1688.1,315.4 L1687.4,318.2 L1686.7,310.4 L1686.0,315.3 L1685.3,314.4 L1684.6,312.6 L1683.9,313.6 L1683.2,312.7 L1682.5,312.5 L1681.8,314.6 L1681.1,317.6 L1680.4,312.9 L1679.7,311.4 L1679.0,311.6 L1678.3,312.9 L1677.6,314.3 L1676.9,314.9 L1676.2,314.9 L1675.5,318.3 L1674.8,314.2 L1674.1,314.9 L1673.4,317.7 L1672.7,318.4 L1672.0,314.9 L1671.3,317.0 L1670.6,315.8 L1669.9,323.2 L1669.2,318.8 L1668.5,315.0 L1667.8,315.3 L1667.1,319.0 L1666.4,316.5 L1665.7,319.9 L1665.0,311.7 L1664.6,323.4 L1663.9,323.5 L1663.2,326.9 L1662.5,324.6 L1661.8,331.3 L1661.1,326.3 L1660.4,328.7 L1659.7,330.6 L1659.0,329.6 L1658.3,326.8 L1657.6,327.6 L1656.9,327.0 L1656.2,326.5 L1655.5,328.9 L1654.8,327.8 L1654.1,325.8 L1653.4,327.2 L1652.7,328.1 L1652.0,329.0 L1651.3,327.7 L1650.6,326.8 L1649.9,326.3 L1649.2,326.2 L1648.5,326.2 L1647.8,326.6 L1647.1,327.6 L1646.4,329.4 L1645.7,327.2 L1645.0,326.4 L1644.3,325.4 L1643.6,324.5 L1642.9,327.4 L1642.2,322.9 L1641.5,324.7 L1640.8,322.4 L1640.1,328.3 L1639.4,325.2 L1638.7,326.8 L1638.0,328.5 L1637.3,326.4 L1636.6,330.6 L1635.9,324.2 L1635.2,326.9 L1634.5,330.7 L1633.8,329.3 L1633.1,326.3 L1632.4,328.2 L1631.7,328.2 L1631.0,330.5 L1630.3,336.0 L1629.6,337.6 L1628.9,337.2 L1628.2,336.2 L1627.5,339.9 L1626.8,339.6 L1626.1,340.8 L1625.4,339.4 L1624.7,340.9 L1624.0,339.3 L1623.3,337.4 L1622.6,338.5 L1621.9,338.2 L1621.2,336.8 L1620.5,337.2 L1619.8,336.0 L1619.1,339.0 L1618.4,337.3 L1617.7,339.4 L1617.0,342.9 L1616.3,341.3 L1615.6,338.7 L1614.9,347.4 L1614.2,342.9 L1613.5,341.8 L1612.8,344.2 L1612.1,341.5 L1611.4,340.1 L1610.7,342.8 L1610.0,337.9 L1609.9,352.5 L1609.2,351.2 L1608.5,354.2 L1607.8,349.1 L1607.1,351.1 L1606.4,351.3 L1605.7,350.5 L1605.0,350.9 L1604.3,350.5 L1603.6,351.0 L1602.9,348.9 L1602.2,348.8 L1601.5,350.1 L1600.8,351.4 L1600.1,351.3 L1599.4,347.7 L1598.7,348.9 L1598.0,351.4 L1597.3,349.2 L1596.6,352.4 L1595.9,353.1 L1595.2,347.3 L1594.5,350.0 L1593.8,345.7 L1593.1,345.8 L1592.4,345.8 L1591.7,347.5 L1591.0,350.0 L1590.3,349.2 L1589.6,353.6 L1588.9,348.5 L1588.2,354.3 L1587.5,350.6 L1586.8,349.0 L1586.1,352.1 L1585.4,354.0 L1584.7,353.1 L1584.0,353.6 L1583.3,350.1 L1582.6,350.7 L1581.9,349.8 L1581.2,349.5 L1580.5,347.9 L1579.8,349.3 L1579.1,348.6 L1578.4,350.1 L1577.7,348.6 L1577.0,352.4 L1576.7,365.6 L1576.0,364.9 L1575.3,365.6 L1574.6,366.7 L1573.9,365.5 L1573.2,366.1 L1572.5,365.9 L1571.8,364.2 L1571.1,362.5 L1570.4,363.4 L1569.7,365.2 L1569.0,364.5 L1568.3,362.3 L1567.6,362.4 L1566.9,361.9 L1566.2,362.8 L1565.5,363.2 L1564.8,364.6 L1564.1,364.7 L1563.4,360.5 L1562.7,362.8 L1562.0,361.8 L1561.3,361.6 L1560.6,363.5 L1559.9,359.2 L1559.2,361.2 L1558.5,358.9 L1557.8,364.7 L1557.1,361.1 L1556.4,362.6 L1555.7,363.9 L1555.0,364.2 L1554.3,365.2 L1553.6,370.9 L1552.9,363.6 L1552.2,367.4 L1551.5,364.8 L1550.8,369.5 L1550.1,367.0 L1549.4,371.1 L1548.7,362.6 L1548.0,363.5 L1547.3,376.4 L1546.6,379.0 L1545.9,374.9 L1545.2,375.6 L1544.5,376.3 L1543.8,375.7 L1543.1,373.9 L1542.4,371.8 L1541.7,372.2 L1541.0,374.9 L1540.3,371.6 L1539.6,371.7 L1538.9,372.0 L1538.2,374.1 L1537.5,374.6 L1536.8,377.6 L1536.1,374.2 L1535.4,373.1 L1534.7,373.1 L1534.0,375.6 L1533.3,374.1 L1532.6,377.1 L1531.9,378.8 L1531.2,377.1 L1530.5,373.4 L1529.8,376.5 L1529.1,375.6 L1528.4,373.4 L1527.7,376.7 L1527.0,373.8 L1526.3,376.9 L1525.6,376.3 L1524.9,376.5 L1524.2,374.1 L1523.5,376.9 L1522.8,377.2 L1522.1,376.8 L1521.4,376.4 L1520.7,376.7 L1520.0,374.2 L1519.5,387.2 L1518.8,392.1 L1518.1,386.8 L1517.4,388.3 L1516.7,386.2 L1516.0,387.3 L1515.3,386.8 L1514.6,387.8 L1513.9,389.3 L1513.2,389.8 L1512.5,388.9 L1511.8,386.1 L1511.1,387.2 L1510.4,386.6 L1509.7,385.5 L1509.0,386.4 L1508.3,385.5 L1507.6,385.5 L1506.9,385.7 L1506.2,383.8 L1505.5,386.2 L1504.8,386.0 L1504.1,386.4 L1503.4,384.6 L1502.7,387.6 L1502.0,386.7 L1501.3,388.1 L1500.6,385.9 L1499.9,385.9 L1499.2,386.1 L1498.5,387.6 L1497.8,385.4 L1497.1,387.1 L1496.4,386.3 L1495.7,388.5 L1495.0,386.0 L1494.3,387.6 L1493.6,386.6 L1492.9,386.7 L1492.2,388.6 L1491.5,388.2 L1490.8,389.2 L1490.1,390.5 L1489.4,388.6 L1488.7,389.5 L1488.0,387.5 L1487.4,397.4 L1486.7,398.2 L1486.0,399.3 L1485.3,398.5 L1484.6,397.2 L1483.9,397.2 L1483.2,398.9 L1482.5,399.7 L1481.8,399.3 L1481.1,400.0 L1480.4,400.5 L1479.7,400.9 L1479.0,400.1 L1478.3,399.7 L1477.6,398.5 L1476.9,397.9 L1476.2,397.8 L1475.5,402.1 L1474.8,399.8 L1474.1,397.6 L1473.4,398.2 L1472.7,398.1 L1472.0,400.1 L1471.3,397.9 L1470.6,401.0 L1469.9,398.4 L1469.2,398.6 L1468.5,398.7 L1467.8,397.5 L1467.1,397.5 L1466.4,397.5 L1465.7,397.7 L1465.0,397.4 L1464.6,409.5 L1463.9,411.8 L1463.2,411.0 L1462.5,412.4 L1461.8,415.0 L1461.1,411.3 L1460.4,412.6 L1459.7,411.9 L1459.0,413.7 L1458.3,413.8 L1457.6,414.0 L1456.9,412.6 L1456.2,410.8 L1455.5,414.8 L1454.8,412.1 L1454.1,411.7 L1453.4,411.5 L1452.7,411.5 L1452.0,412.0 L1451.3,413.2 L1450.6,411.8 L1449.9,414.3 L1449.2,413.5 L1448.5,412.5 L1447.8,414.1 L1447.1,413.4 L1446.4,414.1 L1445.7,411.8 L1445.0,413.1 L1444.3,412.2 L1443.6,410.1 L1442.9,413.5 L1442.2,411.6 L1441.5,413.5 L1440.8,411.2 L1440.1,408.6 L1439.4,412.6 L1438.7,411.8 L1438.0,410.1 L1437.3,410.6 L1436.6,410.6 L1435.9,410.1 L1435.2,410.8 L1434.5,412.6 L1433.8,410.3 L1433.1,412.5 L1432.4,413.4 L1431.7,410.7 L1431.0,411.6 L1430.9,426.6 L1430.2,424.6 L1429.5,424.4 L1428.8,423.8 L1428.1,424.1 L1427.4,423.4 L1426.7,423.9 L1426.0,424.0 L1425.3,422.8 L1424.6,424.9 L1423.9,424.4 L1423.2,424.2 L1422.5,426.3 L1421.8,423.6 L1421.1,423.7 L1420.4,423.3 L1419.7,423.6 L1419.0,425.4 L1418.3,422.2 L1417.6,422.9 L1416.9,423.0 L1416.2,422.8 L1415.5,423.2 L1414.8,420.9 L1414.1,422.2 L1413.4,422.7 L1412.7,423.4 L1412.0,424.4 L1411.3,424.1 L1410.6,423.3 L1409.9,425.6 L1409.2,424.7 L1408.5,425.2 L1407.8,423.8 L1407.1,425.6 L1406.4,424.9 L1405.7,425.7 L1405.0,425.0 L1404.3,424.2 L1403.6,424.2 L1402.9,423.7 L1402.2,423.7 L1401.5,423.7 L1400.8,424.0 L1400.1,423.2 L1399.4,424.1 L1398.7,425.8 L1398.0,424.4 L1397.7,437.4 L1397.0,437.0 L1396.3,437.1 L1395.6,436.2 L1394.9,437.7 L1394.2,438.4 L1393.5,438.2 L1392.8,438.5 L1392.1,436.6 L1391.4,436.7 L1390.7,437.1 L1390.0,435.4 L1389.3,436.8 L1388.6,436.3 L1387.9,435.1 L1387.2,437.4 L1386.5,436.9 L1385.8,435.3 L1385.1,434.9 L1384.4,434.5 L1383.7,434.5 L1383.0,435.0 L1382.3,435.8 L1381.6,436.4 L1380.9,436.2 L1380.2,437.3 L1379.5,436.0 L1378.8,436.9 L1378.1,437.9 L1377.4,436.1 L1376.7,437.0 L1376.0,438.1 L1375.5,450.2 L1374.8,450.8 L1374.1,450.0 L1373.4,450.4 L1372.7,449.5 L1372.0,450.5 L1371.3,450.6 L1370.6,449.5 L1369.9,450.2 L1369.2,451.2 L1368.5,450.9 L1367.8,449.6 L1367.1,450.5 L1366.4,451.4 L1365.7,451.7 L1365.0,450.2 L1364.3,451.4 L1363.6,449.3 L1362.9,449.8 L1362.2,450.5 L1361.5,449.2 L1360.8,450.9 L1360.1,450.6 L1359.4,449.9 L1358.7,448.8 L1358.0,448.2 L1357.3,448.8 L1356.6,449.6 L1355.9,450.2 L1355.2,448.8 L1354.5,448.8 L1353.8,449.3 L1353.1,450.2 L1352.4,450.7 L1351.7,449.0 L1351.0,449.5 L1350.3,450.2 L1349.6,449.7 L1348.9,449.4 L1348.2,450.1 L1347.5,452.2 L1346.8,449.3 L1346.1,449.5 L1345.4,451.2 L1344.7,450.9 L1344.0,450.9 L1343.7,461.2 L1343.0,461.8 L1342.3,460.0 L1341.6,461.7 L1340.9,460.6 L1340.2,461.4 L1339.5,463.5 L1338.8,462.6 L1338.1,466.8 L1337.4,462.8 L1336.7,464.4 L1336.0,462.9 L1335.3,462.9 L1334.6,464.3 L1333.9,463.9 L1333.2,464.2 L1332.5,462.9 L1331.8,462.9 L1331.1,462.8 L1330.4,462.6 L1329.7,463.5 L1329.0,464.0 L1328.3,464.5 L1327.6,463.2 L1326.9,463.8 L1326.2,464.3 L1325.5,463.4 L1324.8,466.2 L1324.1,465.2 L1323.4,462.3 L1322.7,463.6 L1322.0,462.2 L1321.3,462.0 L1320.6,462.9 L1319.9,462.4 L1319.2,462.2 L1318.5,463.9 L1317.8,460.9 L1317.1,461.2 L1316.4,463.0 L1315.7,464.4 L1315.0,462.8 L1314.6,473.0 L1313.9,473.0 L1313.2,472.3 L1312.5,473.8 L1311.8,471.7 L1311.1,473.0 L1310.4,472.2 L1309.7,473.6 L1309.0,471.7 L1308.3,473.1 L1307.6,473.0 L1306.9,473.6 L1306.2,473.7 L1305.5,473.6 L1304.8,473.0 L1304.1,473.6 L1303.4,473.2 L1302.7,473.3 L1302.0,473.8 L1301.3,473.4 L1300.6,472.9 L1299.9,472.0 L1299.2,474.0 L1298.5,473.5 L1297.8,474.5 L1297.1,472.6 L1296.4,473.7 L1295.7,475.2 L1295.0,475.6 L1294.3,475.5 L1293.6,474.2 L1292.9,474.2 L1292.2,475.5 L1291.5,473.5 L1290.8,475.7 L1290.1,474.8 L1289.4,473.1 L1288.7,472.4 L1288.0,472.2 L1287.7,486.8 L1287.0,486.1 L1286.3,486.9 L1285.6,486.9 L1284.9,487.9 L1284.2,487.4 L1283.5,486.3 L1282.8,488.1 L1282.1,486.9 L1281.4,488.5 L1280.7,488.4 L1280.0,487.5 L1279.3,487.7 L1278.6,487.4 L1277.9,487.7 L1277.2,486.9 L1276.5,487.6 L1275.8,487.7 L1275.1,488.1 L1274.4,486.8 L1273.7,488.4 L1273.0,488.3 L1272.3,489.3 L1271.6,487.8 L1270.9,489.4 L1270.2,491.2 L1269.5,489.9 L1268.8,489.6 L1268.1,488.9 L1267.4,489.3 L1266.7,489.5 L1266.0,489.6 L1265.3,489.5 L1264.6,488.4 L1263.9,487.6 L1263.2,486.9 L1262.5,487.2 L1261.8,487.1 L1261.1,487.9 L1260.4,485.9 L1259.7,489.2 L1259.0,489.9 L1258.3,489.5 L1257.6,487.6 L1256.9,486.3 L1256.2,488.1 L1255.5,486.8 L1254.8,486.1 L1254.1,486.8 L1253.4,487.2 L1253.2,502.0 L1252.5,500.4 L1251.8,500.3 L1251.1,500.6 L1250.4,502.1 L1249.7,500.2 L1249.0,499.9 L1248.3,499.5 L1247.6,499.2 L1246.9,499.8 L1246.2,500.1 L1245.5,499.7 L1244.8,501.3 L1244.1,499.2 L1243.4,500.5 L1242.7,499.7 L1242.0,500.3 L1241.3,499.9 L1240.6,499.2 L1239.9,499.6 L1239.2,499.4 L1238.5,499.1 L1237.8,499.5 L1237.1,499.4 L1236.4,498.6 L1235.7,499.4 L1235.0,498.3 L1234.3,499.9 L1233.6,498.6 L1232.9,499.6 L1232.2,499.6 L1231.5,500.8 L1230.8,500.4 L1230.1,500.8 L1229.4,500.5 L1228.7,501.1 L1228.0,500.1 L1227.3,500.1 L1226.6,501.7 L1225.9,502.3 L1225.2,502.5 L1224.5,501.7 L1223.8,501.4 L1223.1,500.3 L1222.4,502.7 L1221.7,500.6 L1221.0,500.1 L1220.3,499.8 L1219.6,500.0 L1218.9,499.7 L1218.2,501.3 L1217.5,501.0 L1216.8,500.8 L1216.1,500.8 L1215.4,500.3 L1214.7,499.4 L1214.0,500.5 L1213.3,500.7 L1212.6,500.0 L1211.9,500.2 L1211.2,498.4 L1210.5,498.5 L1209.8,499.2 L1209.1,500.7 L1208.4,499.5 L1207.7,499.4 L1207.0,499.8 L1206.3,500.4 L1205.6,501.9 L1204.9,500.5 L1204.2,501.2 L1203.5,500.8 L1202.8,501.9 L1202.1,501.4 L1201.4,500.9 L1200.7,501.7 L1200.0,502.1 L1199.3,500.5 L1198.6,502.2 L1197.9,500.0 L1197.2,501.7 L1196.5,500.7 L1195.8,502.6 L1195.1,501.1 L1194.4,502.1 L1193.7,501.4 L1193.0,504.1 L1192.3,501.9 L1191.6,503.0 L1190.9,504.0 L1190.2,501.1 L1189.5,500.3 L1188.8,500.7 L1188.1,501.4 L1187.4,501.0 L1186.7,499.9 L1186.0,498.7 L1185.3,501.2 L1184.6,502.4 L1183.9,500.8 L1183.2,499.9 L1182.5,499.9 L1181.8,501.4 L1181.1,500.5 L1180.4,501.7 L1179.7,501.3 L1179.0,499.8 L1178.3,501.2 L1177.6,500.8 L1176.9,499.5 L1176.2,499.6 L1175.5,499.8 L1174.8,500.2 L1174.1,501.1 L1173.4,500.3 L1172.7,501.6 L1172.0,500.5 L1171.3,501.9 L1170.6,501.0 L1169.9,500.5 L1169.2,501.2 L1168.5,500.9 L1167.8,500.5 L1167.1,500.8 L1166.4,501.6 L1165.7,500.8 L1165.0,501.8 L1164.3,500.8 L1163.6,501.9 L1162.9,501.0 L1162.2,500.3 L1161.5,501.4 L1160.8,500.0 L1160.1,500.0 L1159.4,499.6 L1158.7,501.0 L1158.0,500.0 L1157.3,500.6 L1156.6,501.0 L1155.9,499.9 L1155.2,499.8 L1154.5,499.4 L1153.8,499.4 L1153.1,500.2 L1152.4,498.8 L1151.7,499.1 L1151.0,500.0 L1150.3,499.4 L1149.6,499.9 L1148.9,499.9 L1148.2,499.5 L1147.5,501.5 L1146.8,500.3 L1146.1,499.7 L1145.4,501.1 L1144.7,501.8 L1144.0,501.2 L1143.3,500.0 L1142.6,501.7 L1141.9,502.8 L1141.2,501.9 L1140.5,501.0 L1139.8,500.8 L1139.1,500.7 L1138.4,500.1 L1137.7,501.9 L1137.0,499.4 L1136.3,499.7 L1135.6,500.1 L1134.9,500.1 L1134.2,500.2 L1133.5,500.5 L1132.8,499.0 L1132.1,500.5 L1131.4,499.0 L1130.7,500.5 L1130.0,499.1 L1129.3,499.6 L1128.6,499.4 L1127.9,500.0 L1127.2,499.5 L1126.5,498.0 L1125.8,499.2 L1125.1,499.6 L1124.4,498.9 L1123.7,500.4 L1123.0,500.0 L1122.3,500.9 L1121.6,500.4 L1120.9,501.1 L1120.2,502.6 L1119.5,500.6 L1118.8,500.5 L1118.1,500.6 L1117.4,500.9 L1116.7,499.6 L1116.0,501.0 L1115.3,499.5 L1114.6,502.3 L1113.9,500.9 L1113.2,500.1 L1112.5,500.7 L1111.8,500.5 L1111.1,500.4 L1110.4,503.0 L1109.7,500.6 L1109.0,502.4 L1108.3,500.3 L1107.6,500.6 L1106.9,501.0 L1106.2,499.7 L1105.5,499.5 L1104.8,500.3 L1104.1,498.7 L1103.4,499.8 L1102.7,498.6 L1102.0,499.8 L1101.3,498.0 L1100.6,499.7 L1099.9,499.7 L1099.2,499.8 L1098.5,500.0 L1097.8,501.1 L1097.1,500.3 L1096.4,503.1 L1095.7,502.0 L1095.0,502.4 L1094.3,500.9 L1093.6,500.7 L1092.9,499.5 L1092.2,500.6 L1091.5,501.4 L1090.8,501.5 L1090.1,500.0 L1089.4,501.3 L1088.7,500.3 L1088.0,500.3 L1087.3,504.0 L1086.6,501.3 L1085.9,502.4 L1085.2,502.3 L1084.5,502.5 L1083.8,503.9 L1083.1,503.0 L1082.4,500.8 L1081.7,500.4 L1081.0,500.5 L1080.3,499.1 L1079.6,502.3 L1078.9,500.9 L1078.2,501.7 L1077.5,500.4 L1076.8,501.3 L1076.1,499.7 L1075.4,501.2 L1074.7,499.3 L1074.0,502.1 L1073.3,499.5 L1072.6,501.1 L1071.9,500.2 L1071.2,500.4 L1070.5,500.6 L1069.8,501.2 L1069.1,499.7 L1068.4,503.5 L1067.7,500.1 L1067.0,500.1 L1066.3,503.3 L1065.6,501.4 L1064.9,501.6 L1064.2,501.7 L1063.5,502.7 L1062.8,502.4 L1062.1,503.8 L1061.4,503.2 L1060.7,502.4 L1060.0,503.2 L1059.3,500.9 L1058.6,501.4 L1057.9,502.5 L1057.2,499.8 L1056.5,501.3 L1055.8,501.0 L1055.1,500.8 L1054.4,500.7 L1053.7,500.8 L1053.0,500.7 L1052.3,500.1 L1051.6,501.0 L1050.9,500.6 L1050.2,500.8 L1049.5,500.0 L1048.8,499.5 L1048.1,499.8 L1047.4,502.1 L1046.7,502.1 L1046.0,500.9 L1045.3,498.6 L1044.6,499.0 L1043.9,500.2 L1043.2,499.2 L1042.5,500.5 L1041.8,501.1 L1041.1,500.4 L1040.4,500.2 L1039.7,501.5 L1039.0,500.9 L1038.3,503.6 L1037.6,503.5 L1036.9,502.8 L1036.2,502.0 L1035.5,501.1 L1034.8,500.8 L1034.1,501.9 L1033.4,501.9 L1032.7,501.5 L1032.0,500.3 L1031.3,501.9 L1030.6,501.3 L1029.9,499.5 L1029.2,501.5 L1028.5,500.4 L1027.8,502.2 L1027.1,499.5 L1026.4,500.8 L1025.7,500.1 L1025.0,501.1 L1024.3,500.3 L1023.6,499.6 L1022.9,499.5 L1022.2,501.1 L1021.5,500.0 L1020.8,499.5 L1020.1,499.2 L1019.4,499.8 L1018.7,499.4 L1018.0,499.1 L1017.3,501.8 L1016.6,499.9 L1015.9,500.5 L1015.2,500.1 L1014.5,499.6 L1013.8,501.9 L1013.1,499.9 L1012.4,500.4 L1011.7,501.8 L1011.0,500.5 L1010.3,500.4 L1009.6,500.9 L1008.9,499.9 L1008.2,500.4 L1007.5,500.9 L1006.8,500.6 L1006.1,500.1 L1005.4,500.6 L1004.7,500.9 L1004.0,502.2 L1003.3,500.2 L1002.6,500.8 L1001.9,499.9 L1001.2,502.0 L1000.5,500.7 L999.8,500.6 L999.1,500.8 L998.4,499.2 L997.7,498.7 L997.0,499.0 L996.3,500.1 L995.6,501.2 L994.9,500.1 L994.2,498.9 L993.5,499.2 L992.8,499.2 L992.1,499.1 L991.4,500.3 L990.7,499.8 L990.0,498.6 L989.3,499.0 L988.6,500.3 L987.9,499.4 L987.2,499.7 L986.5,499.9 L985.8,499.9 L985.1,499.7 L984.4,500.1 L983.7,499.1 L983.0,499.5 L982.3,499.6 L981.6,499.1 L980.9,499.7 L980.2,500.3 L979.5,499.5 L978.8,501.1 L978.1,499.9 L977.4,500.5 L976.7,499.5 L976.0,500.2 L975.3,499.9 L974.6,500.1 L973.9,498.6 L973.2,498.9 L972.5,499.2 L971.8,500.1 L971.1,498.8 L970.4,499.9 L969.7,498.4 L969.0,498.5 L968.3,500.0 L967.6,498.5 L966.9,498.5 L966.2,499.4 L965.5,498.9 L964.8,500.0 L964.1,499.9 L963.4,499.4 L962.7,499.6 L962.0,499.8 L961.3,498.6 L960.6,499.0 L959.9,499.5 L959.2,499.4 L958.5,501.3 L957.8,499.7 L957.1,500.5 L956.4,500.8 L955.7,500.6 L955.0,500.0 L954.3,500.1 L953.6,501.0 L952.9,501.0 L952.2,502.0 L951.5,501.4 L950.8,500.6 L950.1,500.3 L949.4,499.0 L948.7,499.8 L948.0,499.8 L947.3,499.4 L946.6,498.8 L945.9,499.5 L945.2,498.6 L944.5,499.7 L943.8,499.5 L943.1,499.8 L942.4,499.4 L941.7,500.0 L941.0,499.0 L940.3,499.0 L939.6,498.8 L938.9,499.9 L938.2,499.6 L937.5,499.2 L936.8,499.1 L936.1,499.8 L935.4,500.1 L934.7,499.0 L934.0,499.7 L933.3,500.0 L932.6,502.1 L931.9,502.1 L931.2,500.9 L930.5,502.2 L929.8,501.4 L929.1,500.8 L928.4,501.3 L927.7,501.9 L927.0,500.9 L926.3,501.6 L925.6,501.2 L924.9,500.0 L924.2,500.7 L923.5,501.4 L922.8,501.7 L922.1,500.5 L921.4,500.3 L920.7,500.7 L920.0,501.3 L919.3,500.2 L918.6,501.0 L917.9,500.4 L917.2,499.8 L916.5,499.7 L915.8,500.4 L915.1,501.1 L914.4,500.8 L913.7,499.4 L913.0,499.1 L912.3,499.8 L911.6,498.0 L910.9,499.1 L910.2,499.4 L909.5,500.7 L908.8,499.9 L908.1,500.6 L907.4,501.0 L906.7,500.4 L906.0,500.3 L905.3,500.2 L904.6,501.7 L903.9,499.8 L903.2,500.4 L902.5,500.6 L901.8,500.0 L901.1,501.0 L900.4,501.9 L899.7,502.5 L899.0,501.0 L898.3,500.5 L897.6,500.9 L896.9,500.4 L896.2,501.3 L895.5,500.5 L894.8,500.6 L894.1,502.0 L893.4,501.4 L892.7,501.1 L892.0,502.4 L891.3,499.2 L890.6,499.9 L889.9,499.6 L889.2,498.8 L888.5,498.4 L887.8,499.0 L887.1,498.7 L886.4,499.7 L885.7,499.6 L885.0,500.2 L884.3,500.1 L883.6,499.3 L882.9,500.2 L882.2,502.2 L881.5,499.7 L880.8,500.9 L880.1,501.2 L879.4,499.8 L878.7,500.2 L878.0,499.8 L877.3,500.4 L876.6,500.0 L875.9,500.0 L875.2,499.6 L874.5,499.4 L873.8,501.9 L873.1,500.4 L872.4,500.1 L871.7,500.6 L871.0,500.6 L870.3,501.5 L869.6,501.5 L868.9,501.0 L868.2,499.9 L867.5,500.3 L866.8,500.0 L866.1,499.6 L865.4,500.1 L864.7,499.5 L864.0,499.8 L863.3,498.8 L862.6,499.3 L861.9,499.8 L861.2,499.7 L860.5,498.9 L859.8,499.8 L859.1,499.2 L858.4,498.9 L857.7,499.5 L857.0,499.8 L856.3,500.5 L855.6,499.1 L854.9,499.6 L854.2,499.3 L853.5,499.7 L852.8,498.9 L852.1,499.2 L851.4,498.9 L850.7,499.8 L850.0,500.2 L849.3,499.7 L848.6,500.5 L847.9,501.8 L847.2,500.7 L846.5,501.0 L845.8,500.8 L845.1,499.7 L844.4,500.3 L843.7,500.3 L843.0,499.6 L842.3,500.2 L841.6,499.8 L840.9,500.5 L840.2,500.7 L839.5,499.8 L838.8,498.6 L838.1,499.1 L837.4,498.9 L836.7,499.5 L836.0,499.7 L835.3,500.5 L834.6,500.1 L833.9,499.6 L833.2,499.8 L832.5,499.7 L831.8,499.4 L831.1,499.7 L830.4,499.1 L829.7,499.1 L829.0,500.0 L828.3,499.1 L827.6,499.9 L826.9,498.6 L826.2,499.2 L825.5,499.8 L824.8,500.0 L824.1,500.0 L823.4,501.1 L822.7,500.3 L822.0,501.0 L821.3,502.5 L820.6,501.9 L819.9,500.0 L819.2,500.9 L818.5,500.5 L817.8,500.0 L817.1,500.0 L816.4,499.5 L815.7,499.7 L815.0,500.5 L814.3,499.3 L813.6,500.1 L812.9,499.8 L812.2,500.4 L811.5,499.8 L810.8,500.8 L810.1,501.3 L809.4,502.3 L808.7,499.8 L808.0,499.8 L807.3,499.4 L806.6,500.1 L805.9,498.6 L805.2,498.4 L804.5,499.3 L803.8,499.8 L803.1,500.2 L802.4,498.9 L801.7,500.0 L801.0,501.1 L800.3,500.6 L799.6,501.8 L798.9,501.0 L798.2,500.5 L797.5,500.3 L796.8,501.3 L796.1,500.5 L795.4,500.1 L794.7,499.7 L794.0,502.2 L793.3,501.3 L792.6,500.4 L791.9,500.2 L791.2,501.0 L790.5,501.4 L789.8,501.2 L789.1,503.6 L788.4,502.7 L787.7,501.1 L787.0,502.2 L786.3,502.8 L785.6,503.9 L784.9,504.5 L784.2,502.4 L783.5,501.4 L782.8,499.3 L782.1,499.9 L781.4,500.9 L780.7,498.4 L780.0,501.0 L779.3,502.0 L778.6,499.7 L777.9,500.2 L777.2,501.2 L776.5,501.1 L775.8,501.1 L775.1,501.7 L774.4,501.5 L773.7,500.6 L773.0,499.5 L772.3,500.3 L771.6,500.8 L770.9,501.9 L770.2,500.5 L769.5,501.6 L768.8,502.2 L768.1,501.9 L767.4,500.1 L766.7,499.9 L766.0,502.7 L765.3,501.0 L764.6,502.7 L763.9,502.4 L763.2,503.5 L762.5,502.4 L761.8,503.0 L761.1,502.5 L760.4,501.8 L759.7,501.3 L759.0,500.5 L758.3,501.0 L757.6,500.2 L756.9,501.1 L756.2,501.1 L755.5,501.3 L754.8,499.5 L754.1,500.2 L753.4,502.0 L752.7,500.9 L752.0,501.8 L751.3,500.6 L750.6,501.7 L749.9,500.1 L749.2,501.0 L748.5,499.7 L747.8,499.9 L747.1,500.1 L746.4,499.8 L745.7,500.2 L745.0,500.7 L744.3,500.9 L743.6,502.1 L742.9,501.2 L742.2,501.4 L741.5,500.4 L740.8,502.2 L740.1,502.1 L739.4,503.6 L738.7,501.0 L738.0,501.3 L737.3,502.4 L736.6,501.6 L735.9,502.0 L735.2,502.1 L734.5,501.4 L733.8,500.4 L733.1,501.3 L732.4,501.3 L731.7,501.2 L731.0,501.0 L730.3,500.9 L729.6,500.9 L728.9,499.9 L728.2,500.3 L727.5,501.7 L726.8,500.6 L726.1,500.6 L725.4,499.3 L724.7,499.6 L724.0,499.8 L723.3,499.1 L722.6,501.1 L721.9,499.7 L721.2,499.6 L720.5,500.2 L719.8,499.3 L719.1,499.6 L718.4,501.3 L717.7,500.9 L717.0,499.4 L716.3,500.5 L715.6,499.9 L714.9,500.6 L714.2,502.1 L713.5,500.4 L712.8,502.2 L712.1,500.4 L711.4,500.8 L710.7,500.9 L710.0,500.7 L709.3,500.3 L708.6,500.2 L707.9,500.8 L707.2,501.9 L706.5,499.6 L705.8,500.8 L705.1,501.5 L704.4,501.0 L703.7,499.7 L703.0,503.0 L702.3,501.7 L701.6,499.5 L700.9,500.0 L700.2,499.7 L699.5,500.1 L698.8,499.2 L698.1,499.8 L697.4,499.9 L696.7,499.2 L696.0,499.2 L695.3,499.3 L694.6,499.1 L693.9,499.6 L693.2,499.5 L692.5,499.9 L691.8,500.4 L691.1,500.6 L690.4,501.1 L689.7,500.9 L689.0,501.5 L688.9,487.9 L688.2,489.2 L687.5,488.2 L686.8,487.6 L686.1,489.9 L685.4,487.9 L684.7,488.4 L684.0,490.6 L683.3,487.8 L682.6,487.2 L681.9,487.7 L681.2,488.5 L680.5,486.7 L679.8,488.1 L679.1,486.9 L678.4,487.4 L677.7,487.5 L677.0,487.9 L676.3,487.0 L675.6,487.5 L674.9,486.6 L674.2,487.3 L673.5,486.2 L672.8,486.7 L672.1,487.8 L671.4,486.9 L670.7,486.4 L670.0,485.8 L669.3,485.3 L668.6,485.7 L667.9,486.4 L667.2,487.4 L666.5,487.7 L665.8,488.3 L665.1,487.5 L664.4,487.7 L663.7,486.8 L663.0,488.4 L662.3,488.5 L661.6,487.1 L660.9,488.8 L660.2,487.2 L659.5,488.2 L658.8,488.0 L658.1,487.9 L657.4,486.7 L656.7,487.7 L656.0,486.8 L655.7,474.2 L655.0,473.2 L654.3,474.2 L653.6,472.2 L652.9,473.3 L652.2,474.0 L651.5,475.0 L650.8,472.9 L650.1,474.0 L649.4,474.3 L648.7,474.3 L648.0,476.1 L647.3,475.2 L646.6,475.5 L645.9,476.6 L645.2,475.7 L644.5,475.2 L643.8,474.9 L643.1,475.7 L642.4,476.1 L641.7,475.0 L641.0,474.7 L640.3,474.7 L639.6,473.6 L638.9,474.6 L638.2,475.8 L637.5,474.7 L636.8,475.8 L636.1,475.5 L635.4,476.8 L634.7,475.9 L634.0,475.0 L633.3,476.1 L632.6,473.0 L631.9,473.3 L631.2,476.1 L630.5,472.7 L629.8,472.4 L629.1,473.8 L628.4,472.9 L627.7,472.2 L627.0,473.6 L626.9,462.1 L626.2,463.8 L625.5,463.7 L624.8,462.2 L624.1,462.6 L623.4,463.3 L622.7,463.0 L622.0,463.8 L621.3,463.5 L620.6,463.2 L619.9,463.2 L619.2,463.4 L618.5,462.1 L617.8,461.4 L617.1,461.2 L616.4,461.7 L615.7,460.2 L615.0,461.5 L614.3,460.4 L613.6,462.8 L612.9,461.5 L612.2,460.2 L611.5,462.0 L610.8,463.2 L610.1,461.9 L609.4,463.3 L608.7,463.2 L608.0,462.9 L607.3,462.0 L606.6,461.8 L605.9,462.8 L605.2,461.6 L604.5,461.8 L603.8,462.3 L603.1,462.1 L602.4,463.8 L601.7,462.8 L601.0,463.6 L600.3,464.2 L599.6,464.2 L598.9,462.8 L598.2,464.1 L597.5,462.7 L596.8,464.4 L596.1,463.5 L595.4,463.3 L594.7,465.7 L594.0,461.4 L593.3,448.9 L592.6,449.4 L591.9,448.8 L591.2,449.5 L590.5,448.7 L589.8,449.2 L589.1,447.2 L588.4,447.8 L587.7,450.1 L587.0,446.7 L586.3,446.8 L585.6,450.4 L584.9,448.7 L584.2,447.3 L583.5,448.0 L582.8,448.8 L582.1,448.8 L581.4,450.1 L580.7,447.7 L580.0,448.5 L579.3,448.2 L578.6,447.8 L577.9,448.7 L577.2,448.4 L576.5,447.3 L575.8,447.8 L575.1,447.6 L574.4,448.7 L573.7,449.2 L573.0,449.7 L572.3,450.1 L571.6,450.1 L570.9,450.0 L570.2,451.5 L569.5,450.3 L568.8,450.5 L568.1,449.8 L567.4,449.0 L566.7,449.1 L566.0,449.3 L565.6,437.3 L564.9,437.8 L564.2,438.6 L563.5,439.4 L562.8,438.6 L562.1,437.3 L561.4,436.9 L560.7,436.6 L560.0,435.3 L559.3,434.3 L558.6,434.8 L557.9,436.0 L557.2,435.3 L556.5,436.2 L555.8,434.7 L555.1,437.8 L554.4,436.3 L553.7,435.2 L553.0,437.4 L552.3,436.5 L551.6,436.8 L550.9,436.1 L550.2,436.8 L549.5,436.3 L548.8,436.3 L548.1,437.5 L547.4,438.5 L546.7,436.7 L546.0,437.0 L545.3,436.6 L544.6,436.0 L543.9,436.5 L543.2,436.5 L542.5,438.7 L541.8,438.2 L541.1,439.3 L540.4,438.9 L539.7,437.2 L539.0,436.8 L538.5,423.1 L537.8,423.6 L537.1,421.7 L536.4,422.5 L535.7,422.7 L535.0,421.9 L534.3,424.0 L533.6,422.5 L532.9,423.4 L532.2,425.1 L531.5,423.5 L530.8,423.6 L530.1,424.4 L529.4,424.1 L528.7,424.2 L528.0,424.3 L527.3,422.2 L526.6,424.5 L525.9,422.7 L525.2,424.4 L524.5,424.1 L523.8,424.2 L523.1,423.9 L522.4,426.3 L521.7,425.2 L521.0,425.0 L520.3,425.1 L519.6,423.8 L518.9,425.8 L518.2,425.0 L517.5,426.1 L516.8,424.2 L516.1,424.6 L515.4,427.4 L514.7,423.9 L514.0,423.9 L513.3,422.9 L512.6,422.1 L511.9,425.1 L511.2,422.4 L510.5,425.2 L509.8,423.5 L509.1,425.8 L508.4,424.6 L507.7,425.2 L507.0,422.8 L506.3,425.4 L505.6,423.0 L505.3,411.8 L504.6,412.4 L503.9,414.2 L503.2,414.6 L502.5,411.9 L501.8,415.1 L501.1,415.2 L500.4,414.8 L499.7,415.0 L499.0,413.5 L498.3,414.5 L497.6,413.2 L496.9,413.4 L496.2,412.5 L495.5,413.2 L494.8,415.6 L494.1,410.5 L493.4,410.4 L492.7,411.9 L492.0,410.5 L491.3,412.4 L490.6,411.4 L489.9,411.9 L489.2,412.6 L488.5,414.0 L487.8,411.7 L487.1,412.4 L486.4,412.2 L485.7,413.2 L485.0,409.6 L484.3,410.9 L483.6,410.1 L482.9,412.2 L482.2,412.0 L481.5,412.1 L480.8,411.3 L480.1,412.3 L479.4,414.9 L478.7,413.7 L478.0,412.2 L478.0,396.2 L477.3,400.9 L476.6,396.2 L475.9,396.1 L475.2,396.2 L474.5,396.7 L473.8,398.5 L473.1,396.9 L472.4,397.8 L471.7,397.0 L471.0,399.4 L470.3,398.2 L469.6,398.6 L468.9,398.4 L468.2,399.1 L467.5,397.8 L466.8,398.1 L466.1,397.6 L465.4,397.8 L464.7,398.4 L464.0,397.9 L463.3,400.8 L462.6,400.6 L461.9,404.8 L461.2,401.2 L460.5,400.1 L459.8,401.1 L459.1,400.2 L458.4,400.8 L457.7,399.6 L457.0,400.2 L456.3,399.0 L455.6,398.1 L454.9,397.5 L454.2,398.3 L453.5,397.2 L452.8,397.4 L452.1,398.6 L451.4,395.9 L450.7,400.8 L450.0,398.5 L449.9,387.5 L449.2,387.7 L448.5,385.2 L447.8,390.8 L447.1,388.0 L446.4,385.7 L445.7,384.4 L445.0,385.9 L444.3,388.0 L443.6,385.1 L442.9,385.4 L442.2,383.3 L441.5,384.5 L440.8,384.8 L440.1,386.7 L439.4,384.5 L438.7,384.8 L438.0,387.3 L437.3,387.4 L436.6,385.0 L435.9,384.6 L435.2,387.2 L434.5,386.2 L433.8,387.3 L433.1,385.1 L432.4,387.5 L431.7,388.1 L431.0,388.5 L430.3,390.4 L429.6,386.9 L428.9,385.8 L428.2,387.1 L427.5,389.8 L426.8,389.2 L426.1,391.4 L425.4,389.0 L424.7,390.1 L424.0,386.9 L423.3,389.3 L422.6,388.7 L421.9,386.1 L421.2,387.6 L420.5,386.3 L419.8,386.6 L419.1,387.6 L418.4,387.2 L417.7,383.5 L417.0,387.3 L416.7,375.1 L416.0,372.7 L415.3,374.6 L414.6,373.7 L413.9,374.3 L413.2,372.9 L412.5,374.3 L411.8,374.6 L411.1,372.4 L410.4,374.6 L409.7,371.8 L409.0,374.1 L408.3,373.1 L407.6,375.1 L406.9,376.3 L406.2,373.6 L405.5,373.8 L404.8,373.8 L404.1,375.5 L403.4,374.8 L402.7,377.7 L402.0,377.3 L401.3,376.1 L400.6,376.0 L399.9,377.6 L399.2,375.6 L398.5,375.6 L397.8,375.1 L397.1,374.4 L396.4,375.2 L395.7,375.3 L395.0,373.6 L395.0,361.0 L394.3,358.0 L393.6,361.1 L392.9,359.5 L392.2,360.3 L391.5,359.9 L390.8,362.7 L390.1,360.4 L389.4,360.9 L388.7,362.0 L388.0,360.2 L387.3,359.5 L386.6,360.9 L385.9,363.4 L385.2,363.4 L384.5,360.1 L383.8,361.8 L383.1,360.3 L382.4,363.8 L381.7,365.9 L381.0,363.2 L380.3,364.7 L379.6,364.0 L378.9,363.7 L378.2,365.9 L377.5,363.0 L376.8,363.3 L376.1,364.6 L375.4,361.2 L374.7,361.9 L374.0,364.1 L373.3,363.4 L372.6,359.8 L371.9,363.2 L371.2,360.8 L370.5,358.6 L369.8,361.2 L369.1,361.9 L368.4,362.1 L367.7,362.7 L367.0,365.5 L366.3,362.8 L365.6,361.2 L364.9,360.3 L364.2,359.2 L363.5,360.8 L362.8,359.7 L362.1,359.2 L361.4,362.2 L360.7,361.6 L360.0,361.2 L359.9,349.6 L359.2,348.2 L358.5,345.9 L357.8,349.7 L357.1,350.4 L356.4,347.5 L355.7,348.4 L355.0,349.4 L354.3,349.2 L353.6,351.0 L352.9,347.8 L352.2,348.7 L351.5,350.7 L350.8,347.4 L350.1,349.2 L349.4,348.0 L348.7,347.3 L348.0,345.9 L347.3,347.6 L346.6,347.4 L345.9,345.1 L345.2,346.4 L344.5,347.9 L343.8,345.9 L343.1,348.5 L342.4,347.4 L341.7,347.6 L341.0,348.1 L340.3,345.2 L339.6,347.7 L338.9,346.5 L338.2,349.6 L337.5,346.7 L336.8,346.6 L336.1,345.1 L335.4,346.0 L334.7,345.1 L334.0,348.2 L333.7,338.1 L333.0,342.6 L332.3,338.8 L331.6,338.1 L330.9,339.6 L330.2,341.0 L329.5,338.6 L328.8,337.8 L328.1,338.8 L327.4,335.8 L326.7,340.1 L326.0,336.3 L325.3,337.3 L324.6,334.5 L323.9,333.8 L323.2,335.8 L322.5,335.0 L321.8,333.0 L321.1,334.5 L320.4,334.1 L319.7,336.8 L319.0,338.5 L318.3,338.0 L317.6,338.5 L316.9,340.1 L316.2,339.1 L315.5,341.3 L314.8,338.1 L314.1,336.9 L313.4,339.9 L312.7,340.6 L312.0,336.2 L311.3,339.7 L310.6,338.1 L309.9,343.4 L309.2,339.6 L308.5,338.7 L307.8,339.3 L307.1,339.8 L306.4,340.6 L305.7,337.4 L305.0,339.1 L304.9,326.9 L304.2,325.7 L303.5,328.1 L302.8,327.3 L302.1,328.2 L301.4,328.0 L300.7,325.4 L300.0,324.3 L299.3,324.1 L298.6,323.3 L297.9,329.0 L297.2,324.1 L296.5,329.0 L295.8,326.7 L295.1,320.9 L294.4,323.9 L293.7,325.3 L293.0,324.2 L292.3,321.8 L291.6,325.1 L290.9,327.8 L290.2,325.8 L289.5,324.4 L288.8,327.6 L288.1,326.2 L287.4,326.2 L286.7,324.7 L286.0,328.1 L285.3,328.3 L284.6,327.5 L283.9,326.0 L283.2,324.7 L282.5,324.7 L281.8,328.7 L281.1,326.1 L280.4,326.8 L279.7,329.4 L279.0,328.7 L278.3,329.7 L277.6,329.9 L276.9,328.1 L276.2,326.4 L275.5,326.7 L274.8,330.1 L274.1,327.2 L273.4,326.7 L272.7,324.7 L272.0,322.0 L271.6,311.1 L270.9,308.4 L270.2,310.3 L269.5,313.5 L268.8,311.0 L268.1,311.9 L267.4,313.0 L266.7,313.0 L266.0,316.3 L265.3,312.6 L264.6,312.0 L263.9,314.0 L263.2,312.1 L262.5,310.3 L261.8,312.6 L261.1,312.4 L260.4,313.0 L259.7,312.7 L259.0,314.2 L258.3,312.0 L257.6,315.1 L256.9,314.5 L256.2,313.1 L255.5,314.9 L254.8,313.2 L254.1,315.5 L253.4,313.0 L252.7,314.0 L252.0,309.3 L251.3,314.8 L250.6,311.5 L249.9,311.0 L249.2,310.7 L248.5,312.0 L247.8,312.6 L247.1,312.3 L246.4,307.6 L245.7,311.2 L245.0,310.3 L244.6,296.7 L243.9,296.9 L243.2,298.4 L242.5,298.1 L241.8,300.7 L241.1,299.0 L240.4,302.8 L239.7,300.1 L239.0,300.4 L238.3,298.7 L237.6,302.2 L236.9,298.5 L236.2,299.0 L235.5,299.6 L234.8,301.1 L234.1,303.7 L233.4,300.4 L232.7,302.3 L232.0,300.6 L231.3,302.5 L230.6,300.0 L229.9,303.0 L229.2,300.0 L228.5,303.1 L227.8,301.3 L227.1,300.8 L226.4,301.6 L225.7,300.1 L225.0,299.2 L224.3,297.9 L223.6,300.3 L222.9,301.1 L222.2,297.1 L221.5,297.8 L220.8,297.6 L220.1,300.7 L219.4,296.8 L218.7,297.2 L218.0,300.0 L217.3,298.2 L216.6,299.2 L215.9,297.6 L215.2,302.2 L214.5,299.6 L213.8,299.6 L213.1,303.0 L212.4,299.9 L211.7,299.7 L211.0,300.7 L210.5,288.7 L209.8,283.1 L209.1,288.3 L208.4,287.6 L207.7,286.0 L207.0,288.7 L206.3,287.8 L205.6,284.7 L204.9,290.7 L204.2,285.2 L203.5,285.5 L202.8,295.8 L202.1,288.1 L201.4,292.7 L200.7,287.1 L200.0,288.4 L199.3,289.4 L198.6,286.4 L197.9,290.3 L197.2,286.3 L196.5,291.0 L195.8,293.9 L195.1,289.0 L194.4,292.5 L193.7,292.6 L193.0,292.4 L192.3,293.2 L191.6,292.3 L190.9,291.9 L190.2,291.6 L189.5,294.4 L188.8,288.3 L188.1,296.3 L187.4,291.2 L186.7,288.7 L186.0,286.3 L185.3,288.4 L184.6,290.6 L183.9,288.8 L183.2,290.0 L182.5,285.3 L181.8,287.5 L181.1,285.7 L180.4,290.0 L179.7,292.5 L179.0,287.7 L178.3,293.7 L177.6,289.6 L177.2,278.2 L176.5,278.6 L175.8,274.6 L175.1,275.5 L174.4,277.1 L173.7,276.8 L173.0,278.5 L172.3,277.2 L171.6,282.4 L170.9,276.4 L170.2,274.8 L169.5,277.7 L168.8,277.3 L168.1,273.7 L167.4,274.1 L166.7,273.9 L166.0,272.2 L165.3,273.6 L164.6,277.2 L163.9,278.7 L163.2,275.5 L162.5,276.6 L161.8,276.7 L161.1,274.1 L160.4,279.1 L159.7,283.0 L159.0,277.8 L158.3,283.6 L157.6,280.8 L156.9,281.2 L156.2,279.0 L155.5,277.8 L154.8,278.4 L154.1,274.0 L153.4,277.5 L152.7,277.3 L152.0,275.8 L151.3,277.8 L150.6,278.9 L149.9,280.6 L149.2,286.6 L148.5,284.1 L147.8,276.8 L147.1,280.6 L146.4,274.3 L145.7,280.0 L145.0,275.0 L144.3,272.6 L143.6,272.9 L142.9,277.6 L142.2,271.8 L141.5,271.1 L140.8,270.3 L140.1,270.5 L139.4,271.6 L138.7,270.9 L138.0,279.8 L137.3,276.7 L136.6,276.3 L135.9,275.2 L135.2,276.2 L134.5,276.8 L133.8,277.9 L133.1,275.4 L132.4,275.2 L131.7,276.9 L131.0,276.1 Z" fill="#5468ad" stroke="#5468ad" stroke-width="0.6" stroke-linejoin="round"/>
<g id="arrows">
<line x1="450.4" y1="752.3" x2="546.0" y2="477.9" stroke="#161616" stroke-width="5.2" stroke-dasharray="17.5 17.5" stroke-dashoffset="0"/><polygon fill="#161616" stroke="#161616" stroke-width="1" stroke-linejoin="round" points="555.5,450.5 555.0,463.0 557.4,480.8 548.9,469.4 535.1,473.1 548.2,460.6"/>
<line x1="982.3" y1="759.0" x2="793.6" y2="529.0" stroke="#161616" stroke-width="5.2" stroke-dasharray="17.5 17.5" stroke-dashoffset="5.5"/><polygon fill="#161616" stroke="#161616" stroke-width="1" stroke-linejoin="round" points="775.2,506.6 785.6,513.6 802.1,520.8 787.9,522.1 783.8,535.7 780.0,518.2"/>
<line x1="981.3" y1="734.5" x2="968.8" y2="534.9" stroke="#161616" stroke-width="5.2" stroke-dasharray="17.5 17.5" stroke-dashoffset="0"/><polygon fill="#161616" stroke="#161616" stroke-width="1" stroke-linejoin="round" points="967.0,506.0 971.3,517.8 980.5,533.2 968.2,526.0 957.0,534.7 964.2,518.2"/>
<line x1="982.3" y1="759.0" x2="1140.0" y2="527.9" stroke="#161616" stroke-width="5.2" stroke-dasharray="17.5 17.5" stroke-dashoffset="0"/><polygon fill="#161616" stroke="#161616" stroke-width="1" stroke-linejoin="round" points="1157.0,503.0 1153.2,514.9 1151.0,532.8 1145.7,519.5 1131.5,519.5 1147.3,510.9"/>
<line x1="1526.0" y1="737.0" x2="1398.2" y2="470.0" stroke="#161616" stroke-width="5.2" stroke-dasharray="17.5 17.5" stroke-dashoffset="0"/><polygon fill="#161616" stroke="#161616" stroke-width="1" stroke-linejoin="round" points="1385.7,443.8 1394.1,453.1 1408.4,464.0 1394.3,461.8 1387.1,474.2 1387.6,456.2"/>
<line x1="2025.0" y1="524.5" x2="1831.5" y2="290.4" stroke="#161616" stroke-width="5.2" stroke-dasharray="17.5 17.5" stroke-dashoffset="0"/><polygon fill="#161616" stroke="#161616" stroke-width="1" stroke-linejoin="round" points="1813.0,268.0 1823.4,275.0 1839.9,282.1 1825.7,283.4 1821.7,297.1 1817.9,279.5"/>
<line x1="2030.5" y1="526.0" x2="2016.3" y2="291.9" stroke="#161616" stroke-width="5.2" stroke-dasharray="17.5 17.5" stroke-dashoffset="0"/><polygon fill="#161616" stroke="#161616" stroke-width="1" stroke-linejoin="round" points="2014.5,263.0 2018.8,274.8 2028.0,290.2 2015.7,283.0 2004.4,291.7 2011.6,275.2"/>
<line x1="2039.5" y1="514.3" x2="2195.2" y2="281.8" stroke="#161616" stroke-width="5.2" stroke-dasharray="17.5 17.5" stroke-dashoffset="0"/><polygon fill="#161616" stroke="#161616" stroke-width="1" stroke-linejoin="round" points="2212.5,256.0 2208.8,268.0 2206.7,285.8 2201.4,272.6 2187.1,272.7 2202.8,264.0"/><path d="M982.3,757 V770" stroke="#161616" stroke-width="5.2" fill="none"/>
</g>
<g id="colorbar">
<rect x="2304" y="991.88" width="59" height="21.72" fill="rgb(255, 255, 255)"/>
<rect x="2304" y="970.76" width="59" height="21.72" fill="rgb(255, 254, 254)"/>
<rect x="2304" y="949.63" width="59" height="21.72" fill="rgb(255, 254, 253)"/>
<rect x="2304" y="928.51" width="59" height="21.72" fill="rgb(255, 253, 252)"/>
<rect x="2304" y="907.39" width="59" height="21.72" fill="rgb(255, 252, 250)"/>
<rect x="2304" y="886.27" width="59" height="21.72" fill="rgb(254, 249, 246)"/>
<rect x="2304" y="865.15" width="59" height="21.72" fill="rgb(253, 238, 232)"/>
<rect x="2304" y="844.02" width="59" height="21.72" fill="rgb(249, 230, 220)"/>
<rect x="2304" y="822.90" width="59" height="21.72" fill="rgb(245, 226, 216)"/>
<rect x="2304" y="801.78" width="59" height="21.72" fill="rgb(229, 213, 205)"/>
<rect x="2304" y="780.66" width="59" height="21.72" fill="rgb(211, 202, 198)"/>
<rect x="2304" y="759.54" width="59" height="21.72" fill="rgb(197, 191, 187)"/>
<rect x="2304" y="738.41" width="59" height="21.72" fill="rgb(189, 185, 181)"/>
<rect x="2304" y="717.29" width="59" height="21.72" fill="rgb(182, 176, 172)"/>
<rect x="2304" y="696.17" width="59" height="21.72" fill="rgb(171, 165, 162)"/>
<rect x="2304" y="675.05" width="59" height="21.72" fill="rgb(164, 158, 155)"/>
<rect x="2304" y="653.93" width="59" height="21.72" fill="rgb(158, 152, 149)"/>
<rect x="2304" y="632.80" width="59" height="21.72" fill="rgb(151, 146, 143)"/>
<rect x="2304" y="611.68" width="59" height="21.72" fill="rgb(143, 139, 136)"/>
<rect x="2304" y="590.56" width="59" height="21.72" fill="rgb(137, 133, 130)"/>
<rect x="2304" y="569.44" width="59" height="21.72" fill="rgb(132, 128, 124)"/>
<rect x="2304" y="548.32" width="59" height="21.72" fill="rgb(126, 122, 118)"/>
<rect x="2304" y="527.20" width="59" height="21.72" fill="rgb(121, 117, 113)"/>
<rect x="2304" y="506.07" width="59" height="21.72" fill="rgb(115, 112, 108)"/>
<rect x="2304" y="484.95" width="59" height="21.72" fill="rgb(110, 107, 103)"/>
<rect x="2304" y="463.83" width="59" height="21.72" fill="rgb(105, 102, 98)"/>
<rect x="2304" y="442.71" width="59" height="21.72" fill="rgb(100, 97, 93)"/>
<rect x="2304" y="421.59" width="59" height="21.72" fill="rgb(96, 93, 89)"/>
<rect x="2304" y="400.46" width="59" height="21.72" fill="rgb(89, 86, 83)"/>
<rect x="2304" y="379.34" width="59" height="21.72" fill="rgb(83, 80, 77)"/>
<rect x="2304" y="358.22" width="59" height="21.72" fill="rgb(75, 73, 71)"/>
<rect x="2304" y="337.10" width="59" height="21.72" fill="rgb(66, 64, 63)"/>
<rect x="2304" y="315.98" width="59" height="21.72" fill="rgb(55, 55, 54)"/>
<rect x="2304" y="294.85" width="59" height="21.72" fill="rgb(48, 49, 48)"/>
<rect x="2304" y="273.73" width="59" height="21.72" fill="rgb(43, 44, 43)"/>
<rect x="2304" y="252.61" width="59" height="21.72" fill="rgb(39, 40, 39)"/>
<rect x="2304" y="231.49" width="59" height="21.72" fill="rgb(34, 34, 34)"/>
<rect x="2304" y="210.37" width="59" height="21.72" fill="rgb(30, 30, 30)"/>
<rect x="2304" y="189.24" width="59" height="21.72" fill="rgb(29, 29, 29)"/>
<rect x="2304" y="168.12" width="59" height="21.72" fill="rgb(28, 28, 28)"/>
<rect x="2304" y="147.00" width="59" height="21.72" fill="rgb(27, 27, 27)"/><path d="M2304,1013.3 H2363" stroke="#77777a" stroke-width="2.2" fill="none"/><path d="M2362.4,1014.4 V147" stroke="#707074" stroke-width="1.5" fill="none"/>
</g>
<g id="labels">
<text x="121" y="260" font-size="47" text-anchor="end">22</text>
<text x="121" y="356.2" font-size="47" text-anchor="end">20</text>
<text x="121" y="452" font-size="47" text-anchor="end">18</text>
<text x="121" y="548" font-size="47" text-anchor="end">16</text>
<text x="121" y="644.6" font-size="47" text-anchor="end">14</text>
<text x="121" y="740" font-size="47" text-anchor="end">12</text>
<text x="121" y="836.4" font-size="47" text-anchor="end">10</text>
<text x="121" y="932.3" font-size="47" text-anchor="end">8</text>
<text x="131.0" y="1064" font-size="47" text-anchor="middle">0</text>
<text x="308.5" y="1064" font-size="47" text-anchor="middle">1</text>
<text x="486.0" y="1064" font-size="47" text-anchor="middle">2</text>
<text x="663.5" y="1064" font-size="47" text-anchor="middle">3</text>
<text x="841.0" y="1064" font-size="47" text-anchor="middle">4</text>
<text x="1018.5" y="1064" font-size="47" text-anchor="middle">5</text>
<text x="1196.0" y="1064" font-size="47" text-anchor="middle">6</text>
<text x="1373.5" y="1064" font-size="47" text-anchor="middle">7</text>
<text x="1551.0" y="1064" font-size="47" text-anchor="middle">8</text>
<text x="1728.5" y="1064" font-size="47" text-anchor="middle">9</text>
<text x="1906.0" y="1064" font-size="47" text-anchor="middle">10</text>
<text x="2083.5" y="1064" font-size="47" text-anchor="middle">11</text>
<text x="2261.0" y="1064" font-size="47" text-anchor="middle">12</text>
<text x="18.5" y="164.5" font-size="47" text-anchor="start">f, Hz</text>
<text x="1196" y="1108" font-size="47" text-anchor="middle">t, s</text>
<text x="2271" y="58" font-size="47" text-anchor="middle">Pressure pulsation</text>
<text x="2270.5" y="109.3" font-size="47" text-anchor="middle">amplitude, a.u.</text>
<text x="1991" y="230.5" font-size="47" text-anchor="middle">flowrate curve</text>
<text x="443" y="797" font-size="47" text-anchor="middle">Start PVC</text>
<text x="971" y="814.4" font-size="47" text-anchor="middle">Part−load regime</text>
<text x="977.5" y="865.2" font-size="47" text-anchor="middle">Q = 0.5Qc</text>
<text x="1522" y="782.4" font-size="47" text-anchor="middle">Stop PVC</text>
<text x="2025.5" y="569.6" font-size="47" text-anchor="middle">BEP regime</text>
<text x="2033.5" y="620.3" font-size="47" text-anchor="middle">Q = Qc</text>
<text x="2391" y="180" font-size="47" text-anchor="middle">1</text>
<text x="2406" y="263" font-size="47" text-anchor="middle">0.9</text>
<text x="2406" y="343" font-size="47" text-anchor="middle">0.8</text>
<text x="2406" y="425" font-size="47" text-anchor="middle">0.7</text>
<text x="2406" y="512" font-size="47" text-anchor="middle">0.6</text>
<text x="2406" y="597" font-size="47" text-anchor="middle">0.5</text>
<text x="2406" y="677" font-size="47" text-anchor="middle">0.4</text>
<text x="2406" y="759" font-size="47" text-anchor="middle">0.3</text>
<text x="2406" y="833" font-size="47" text-anchor="middle">0.2</text>
<text x="2406" y="910" font-size="47" text-anchor="middle">0.1</text>
<text x="2411" y="997" font-size="47" text-anchor="middle">0</text>
</g>
</g>
</svg>
</body></html>
